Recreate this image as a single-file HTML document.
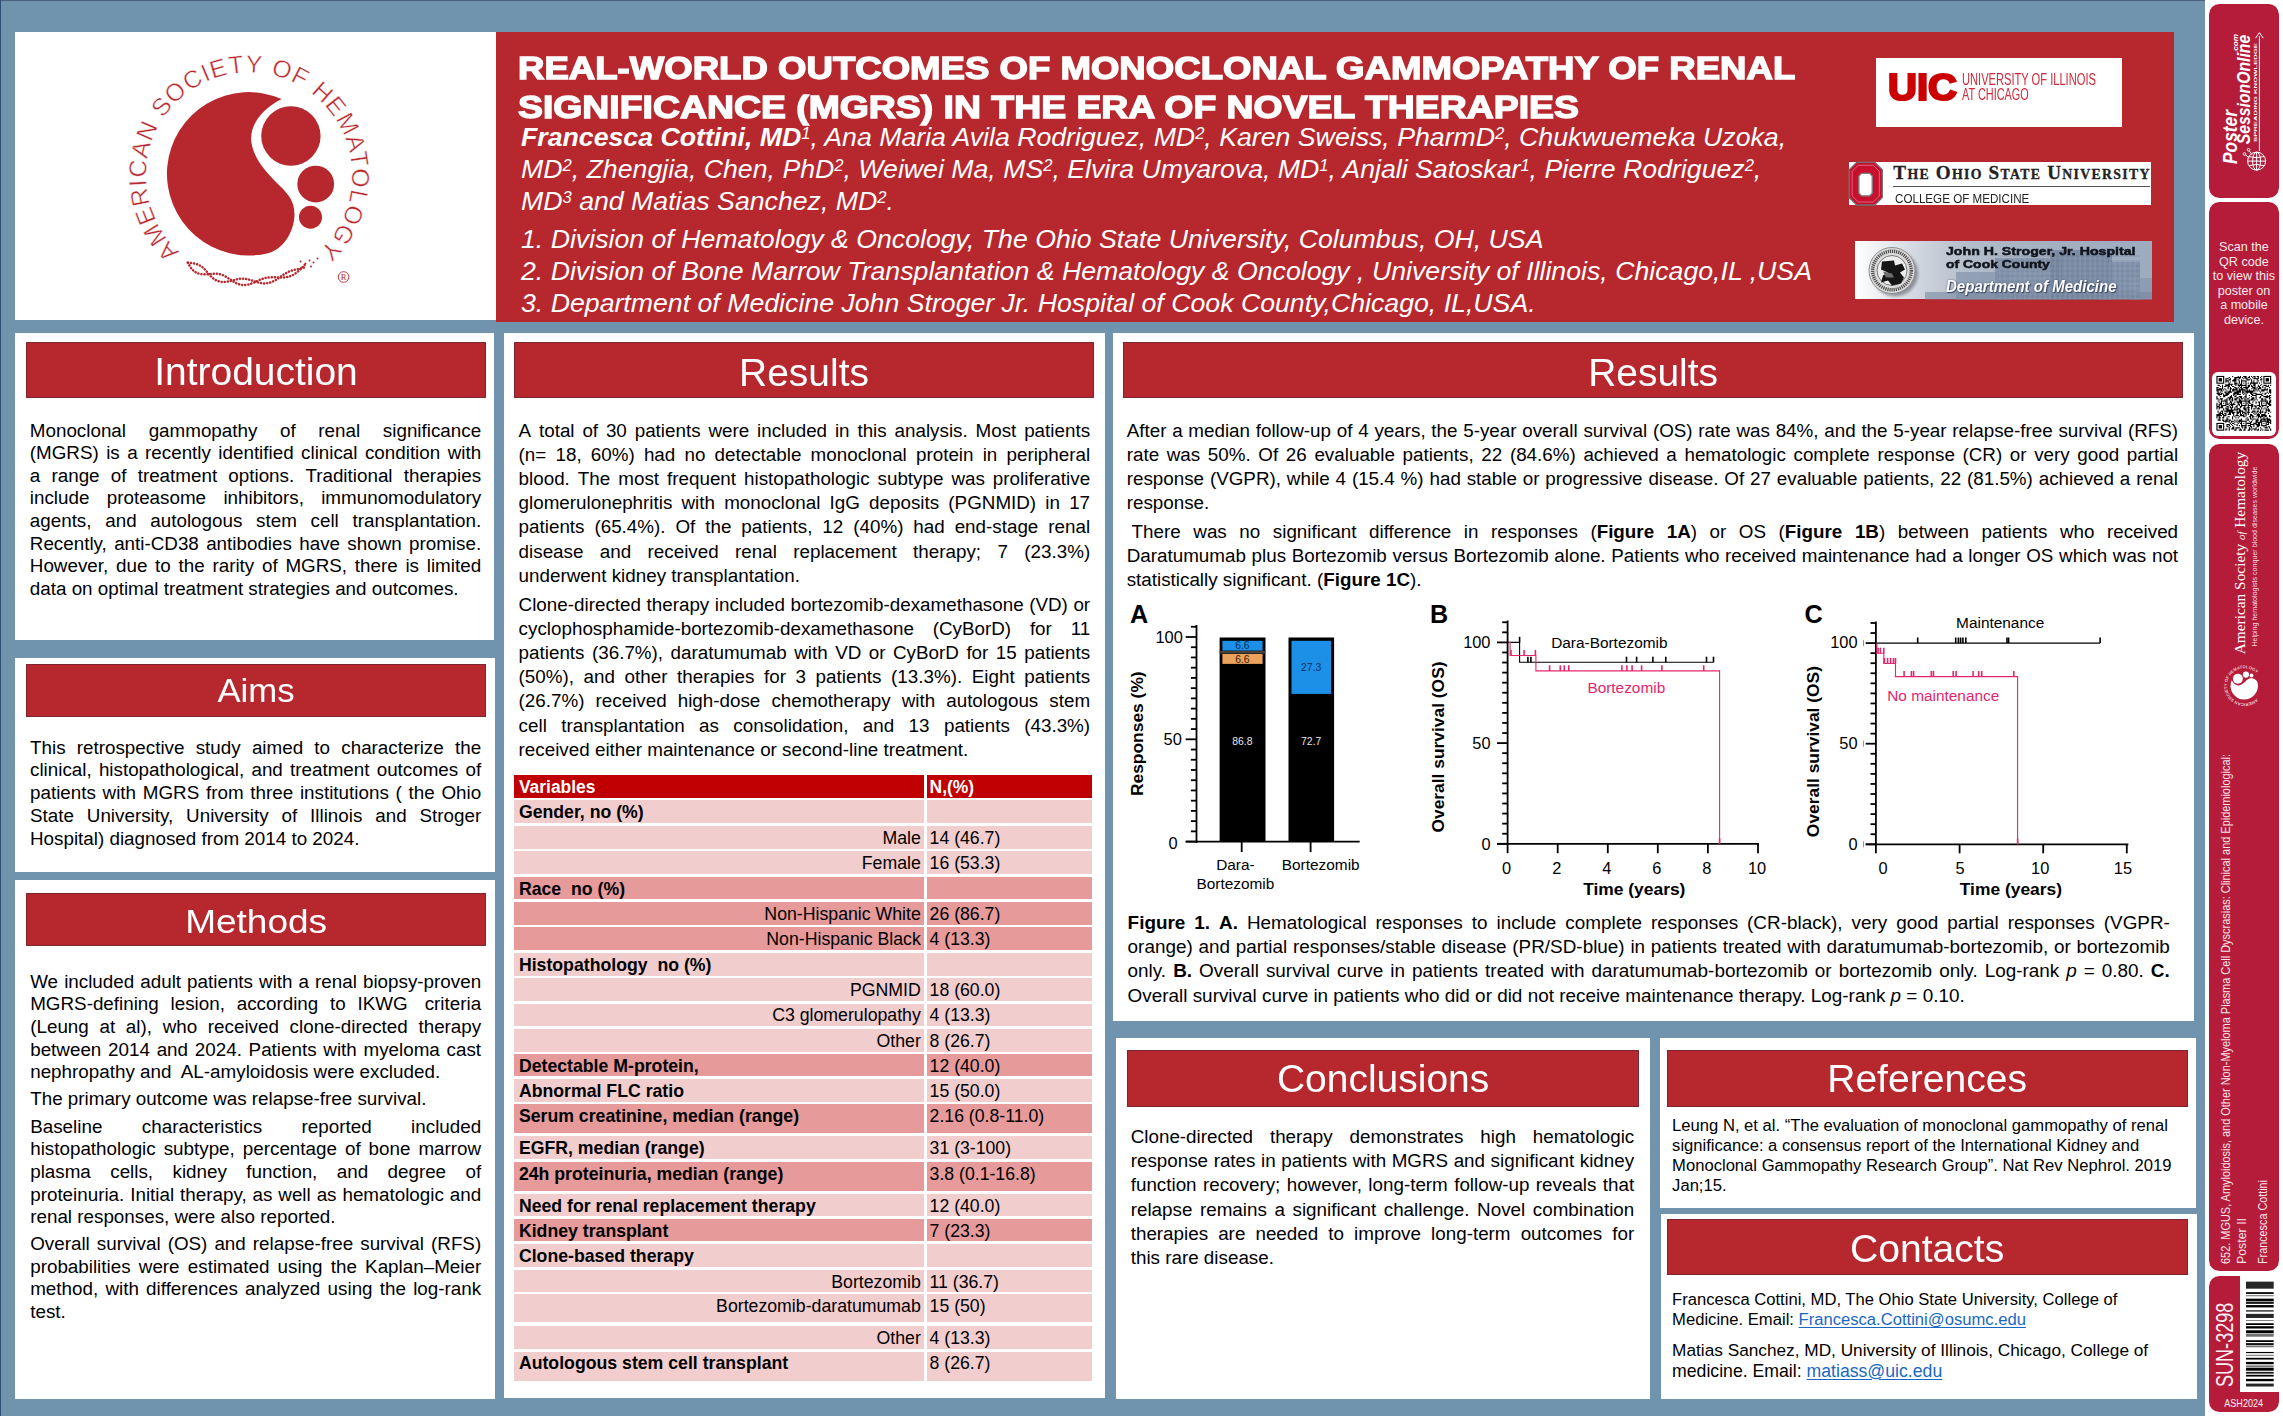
<!DOCTYPE html>
<html><head><meta charset="utf-8"><title>MGRS poster</title>
<style>
html,body{margin:0;padding:0;}
body{width:2283px;height:1416px;overflow:hidden;background:#7094ad;font-family:"Liberation Sans",sans-serif;color:#000;position:relative;}
.b{position:absolute;}
.h{background:#b7282e;color:#fff;box-shadow:inset 0 0 0 1px rgba(85,35,55,.6);overflow:hidden;}
.l{position:absolute;white-space:nowrap;z-index:2;}
.j{display:flex;justify-content:space-between;}
.l sup{font-size:62%;vertical-align:baseline;position:relative;top:-0.42em;line-height:0;}
svg.ov{position:absolute;left:0;top:0;z-index:1;}
</style></head>
<body>
<div class="b" style="left:0.00px;top:0.00px;width:2204.80px;height:1.20px;background:#47617f;"></div>
<div class="b" style="left:0.00px;top:0.00px;width:1.40px;height:1416.00px;background:#2f4f73;"></div>
<div class="b" style="left:15.00px;top:32.00px;width:481.00px;height:288.30px;background:#fff;"></div>
<div class="b" style="left:495.80px;top:32.00px;width:1678.20px;height:289.90px;background:#b7282e;"></div>
<div class="b" style="left:14.50px;top:332.60px;width:479.90px;height:307.40px;background:#fff;"></div>
<div class="b" style="left:15.00px;top:658.00px;width:480.30px;height:213.70px;background:#fff;"></div>
<div class="b" style="left:15.00px;top:880.00px;width:480.30px;height:518.50px;background:#fff;"></div>
<div class="b" style="left:504.00px;top:332.60px;width:601.10px;height:1065.40px;background:#fff;"></div>
<div class="b" style="left:1113.30px;top:332.60px;width:1080.70px;height:688.40px;background:#fff;"></div>
<div class="b" style="left:1115.60px;top:1038.20px;width:534.90px;height:360.80px;background:#fff;"></div>
<div class="b" style="left:1659.50px;top:1038.20px;width:536.50px;height:169.80px;background:#fff;"></div>
<div class="b" style="left:1660.90px;top:1213.80px;width:535.90px;height:185.20px;background:#fff;"></div>
<div class="b h" style="left:26.00px;top:342.20px;width:460.00px;height:56.30px;"><div style="position:absolute;left:0;right:0;top:2.31px;font-size:38.2px;line-height:56.30px;text-align:center;transform:scaleX(1.02);">Introduction</div></div>
<div class="b h" style="left:26.00px;top:664.00px;width:460.00px;height:52.70px;"><div style="position:absolute;left:0;right:0;top:1.44px;font-size:33.5px;line-height:52.70px;text-align:center;transform:scaleX(1.035);">Aims</div></div>
<div class="b h" style="left:26.00px;top:893.40px;width:460.30px;height:52.20px;"><div style="position:absolute;left:0;right:0;top:2.19px;font-size:33.5px;line-height:52.20px;text-align:center;transform:scaleX(1.105);">Methods</div></div>
<div class="b h" style="left:514.00px;top:342.20px;width:580.00px;height:56.30px;"><div style="position:absolute;left:0;right:0;top:2.61px;font-size:38.2px;line-height:56.30px;text-align:center;transform:scaleX(1.02);">Results</div></div>
<div class="b h" style="left:1122.50px;top:342.20px;width:1060.20px;height:56.30px;"><div style="position:absolute;left:0;right:0;top:2.61px;font-size:38.2px;line-height:56.30px;text-align:center;transform:scaleX(1.02);">Results</div></div>
<div class="b h" style="left:1126.50px;top:1050.20px;width:512.20px;height:56.60px;"><div style="position:absolute;left:0;right:0;top:1.06px;font-size:38.5px;line-height:56.60px;text-align:center;transform:scaleX(1.012);">Conclusions</div></div>
<div class="b h" style="left:1667.40px;top:1050.20px;width:520.20px;height:56.60px;"><div style="position:absolute;left:0;right:0;top:1.06px;font-size:38.5px;line-height:56.60px;text-align:center;transform:scaleX(1.015);">References</div></div>
<div class="b h" style="left:1667.40px;top:1219.40px;width:520.20px;height:56.00px;"><div style="position:absolute;left:0;right:0;top:1.86px;font-size:38.5px;line-height:56.00px;text-align:center;transform:scaleX(1.015);">Contacts</div></div>
<div class="l j" style="left:29.80px;top:418.54px;font-size:18.82px;line-height:24.47px;height:24.47px;width:451.40px"><span>Monoclonal</span><span>gammopathy</span><span>of</span><span>renal</span><span>significance</span></div>
<div class="l j" style="left:29.80px;top:441.14px;font-size:18.82px;line-height:24.47px;height:24.47px;width:451.40px"><span>(MGRS)</span><span>is</span><span>a</span><span>recently</span><span>identified</span><span>clinical</span><span>condition</span><span>with</span></div>
<div class="l j" style="left:29.80px;top:463.74px;font-size:18.82px;line-height:24.47px;height:24.47px;width:451.40px"><span>a</span><span>range</span><span>of</span><span>treatment</span><span>options.</span><span>Traditional</span><span>therapies</span></div>
<div class="l j" style="left:29.80px;top:486.34px;font-size:18.82px;line-height:24.47px;height:24.47px;width:451.40px"><span>include</span><span>proteasome</span><span>inhibitors,</span><span>immunomodulatory</span></div>
<div class="l j" style="left:29.80px;top:508.94px;font-size:18.82px;line-height:24.47px;height:24.47px;width:451.40px"><span>agents,</span><span>and</span><span>autologous</span><span>stem</span><span>cell</span><span>transplantation.</span></div>
<div class="l j" style="left:29.80px;top:531.54px;font-size:18.82px;line-height:24.47px;height:24.47px;width:451.40px"><span>Recently,</span><span>anti-CD38</span><span>antibodies</span><span>have</span><span>shown</span><span>promise.</span></div>
<div class="l j" style="left:29.80px;top:554.14px;font-size:18.82px;line-height:24.47px;height:24.47px;width:451.40px"><span>However,</span><span>due</span><span>to</span><span>the</span><span>rarity</span><span>of</span><span>MGRS,</span><span>there</span><span>is</span><span>limited</span></div>
<div class="l" style="left:29.80px;top:576.74px;font-size:18.82px;line-height:24.47px;height:24.47px;width:451.40px;">data on optimal treatment strategies and outcomes.</div>
<div class="l j" style="left:30.00px;top:735.64px;font-size:18.82px;line-height:24.47px;height:24.47px;width:451.20px"><span>This</span><span>retrospective</span><span>study</span><span>aimed</span><span>to</span><span>characterize</span><span>the</span></div>
<div class="l j" style="left:30.00px;top:758.39px;font-size:18.82px;line-height:24.47px;height:24.47px;width:451.20px"><span>clinical,</span><span>histopathological,</span><span>and</span><span>treatment</span><span>outcomes</span><span>of</span></div>
<div class="l j" style="left:30.00px;top:781.14px;font-size:18.82px;line-height:24.47px;height:24.47px;width:451.20px"><span>patients</span><span>with</span><span>MGRS</span><span>from</span><span>three</span><span>institutions</span><span>(</span><span>the</span><span>Ohio</span></div>
<div class="l j" style="left:30.00px;top:803.89px;font-size:18.82px;line-height:24.47px;height:24.47px;width:451.20px"><span>State</span><span>University,</span><span>University</span><span>of</span><span>Illinois</span><span>and</span><span>Stroger</span></div>
<div class="l" style="left:30.00px;top:826.64px;font-size:18.82px;line-height:24.47px;height:24.47px;width:451.20px;">Hospital) diagnosed from 2014 to 2024.</div>
<div class="l j" style="left:30.20px;top:969.54px;font-size:18.82px;line-height:24.47px;height:24.47px;width:451.00px"><span>We</span><span>included</span><span>adult</span><span>patients</span><span>with</span><span>a</span><span>renal</span><span>biopsy-proven</span></div>
<div class="l j" style="left:30.20px;top:992.24px;font-size:18.82px;line-height:24.47px;height:24.47px;width:451.00px"><span>MGRS-defining</span><span>lesion,</span><span>according</span><span>to</span><span>IKWG&nbsp;</span><span>criteria</span></div>
<div class="l j" style="left:30.20px;top:1014.94px;font-size:18.82px;line-height:24.47px;height:24.47px;width:451.00px"><span>(Leung</span><span>at</span><span>al),</span><span>who</span><span>received</span><span>clone-directed</span><span>therapy</span></div>
<div class="l j" style="left:30.20px;top:1037.64px;font-size:18.82px;line-height:24.47px;height:24.47px;width:451.00px"><span>between</span><span>2014</span><span>and</span><span>2024.</span><span>Patients</span><span>with</span><span>myeloma</span><span>cast</span></div>
<div class="l" style="left:30.20px;top:1060.34px;font-size:18.82px;line-height:24.47px;height:24.47px;width:451.00px;">nephropathy and&nbsp; AL-amyloidosis were excluded.</div>
<div class="l" style="left:30.20px;top:1087.44px;font-size:18.82px;line-height:24.47px;height:24.47px;width:451.00px;">The primary outcome was relapse-free survival.</div>
<div class="l j" style="left:30.20px;top:1114.54px;font-size:18.82px;line-height:24.47px;height:24.47px;width:451.00px"><span>Baseline</span><span>characteristics</span><span>reported</span><span>included</span></div>
<div class="l j" style="left:30.20px;top:1137.24px;font-size:18.82px;line-height:24.47px;height:24.47px;width:451.00px"><span>histopathologic</span><span>subtype,</span><span>percentage</span><span>of</span><span>bone</span><span>marrow</span></div>
<div class="l j" style="left:30.20px;top:1159.94px;font-size:18.82px;line-height:24.47px;height:24.47px;width:451.00px"><span>plasma</span><span>cells,</span><span>kidney</span><span>function,</span><span>and</span><span>degree</span><span>of</span></div>
<div class="l j" style="left:30.20px;top:1182.64px;font-size:18.82px;line-height:24.47px;height:24.47px;width:451.00px"><span>proteinuria.</span><span>Initial</span><span>therapy,</span><span>as</span><span>well</span><span>as</span><span>hematologic</span><span>and</span></div>
<div class="l" style="left:30.20px;top:1205.34px;font-size:18.82px;line-height:24.47px;height:24.47px;width:451.00px;">renal responses, were also reported.</div>
<div class="l j" style="left:30.20px;top:1231.94px;font-size:18.82px;line-height:24.47px;height:24.47px;width:451.00px"><span>Overall</span><span>survival</span><span>(OS)</span><span>and</span><span>relapse-free</span><span>survival</span><span>(RFS)</span></div>
<div class="l j" style="left:30.20px;top:1254.69px;font-size:18.82px;line-height:24.47px;height:24.47px;width:451.00px"><span>probabilities</span><span>were</span><span>estimated</span><span>using</span><span>the</span><span>Kaplan–Meier</span></div>
<div class="l j" style="left:30.20px;top:1277.44px;font-size:18.82px;line-height:24.47px;height:24.47px;width:451.00px"><span>method,</span><span>with</span><span>differences</span><span>analyzed</span><span>using</span><span>the</span><span>log-rank</span></div>
<div class="l" style="left:30.20px;top:1300.19px;font-size:18.82px;line-height:24.47px;height:24.47px;width:451.00px;">test.</div>
<div class="l j" style="left:518.60px;top:418.54px;font-size:18.82px;line-height:24.47px;height:24.47px;width:571.60px"><span>A</span><span>total</span><span>of</span><span>30</span><span>patients</span><span>were</span><span>included</span><span>in</span><span>this</span><span>analysis.</span><span>Most</span><span>patients</span></div>
<div class="l j" style="left:518.60px;top:442.74px;font-size:18.82px;line-height:24.47px;height:24.47px;width:571.60px"><span>(n=</span><span>18,</span><span>60%)</span><span>had</span><span>no</span><span>detectable</span><span>monoclonal</span><span>protein</span><span>in</span><span>peripheral</span></div>
<div class="l j" style="left:518.60px;top:466.94px;font-size:18.82px;line-height:24.47px;height:24.47px;width:571.60px"><span>blood.</span><span>The</span><span>most</span><span>frequent</span><span>histopathologic</span><span>subtype</span><span>was</span><span>proliferative</span></div>
<div class="l j" style="left:518.60px;top:491.14px;font-size:18.82px;line-height:24.47px;height:24.47px;width:571.60px"><span>glomerulonephritis</span><span>with</span><span>monoclonal</span><span>IgG</span><span>deposits</span><span>(PGNMID)</span><span>in</span><span>17</span></div>
<div class="l j" style="left:518.60px;top:515.34px;font-size:18.82px;line-height:24.47px;height:24.47px;width:571.60px"><span>patients</span><span>(65.4%).</span><span>Of</span><span>the</span><span>patients,</span><span>12</span><span>(40%)</span><span>had</span><span>end-stage</span><span>renal</span></div>
<div class="l j" style="left:518.60px;top:539.54px;font-size:18.82px;line-height:24.47px;height:24.47px;width:571.60px"><span>disease</span><span>and</span><span>received</span><span>renal</span><span>replacement</span><span>therapy;</span><span>7</span><span>(23.3%)</span></div>
<div class="l" style="left:518.60px;top:563.74px;font-size:18.82px;line-height:24.47px;height:24.47px;width:571.60px;">underwent kidney transplantation.</div>
<div class="l j" style="left:518.60px;top:592.54px;font-size:18.82px;line-height:24.47px;height:24.47px;width:571.60px"><span>Clone-directed</span><span>therapy</span><span>included</span><span>bortezomib-dexamethasone</span><span>(VD)</span><span>or</span></div>
<div class="l j" style="left:518.60px;top:616.74px;font-size:18.82px;line-height:24.47px;height:24.47px;width:571.60px"><span>cyclophosphamide-bortezomib-dexamethasone</span><span>(CyBorD)</span><span>for</span><span>11</span></div>
<div class="l j" style="left:518.60px;top:640.94px;font-size:18.82px;line-height:24.47px;height:24.47px;width:571.60px"><span>patients</span><span>(36.7%),</span><span>daratumumab</span><span>with</span><span>VD</span><span>or</span><span>CyBorD</span><span>for</span><span>15</span><span>patients</span></div>
<div class="l j" style="left:518.60px;top:665.14px;font-size:18.82px;line-height:24.47px;height:24.47px;width:571.60px"><span>(50%),</span><span>and</span><span>other</span><span>therapies</span><span>for</span><span>3</span><span>patients</span><span>(13.3%).</span><span>Eight</span><span>patients</span></div>
<div class="l j" style="left:518.60px;top:689.34px;font-size:18.82px;line-height:24.47px;height:24.47px;width:571.60px"><span>(26.7%)</span><span>received</span><span>high-dose</span><span>chemotherapy</span><span>with</span><span>autologous</span><span>stem</span></div>
<div class="l j" style="left:518.60px;top:713.54px;font-size:18.82px;line-height:24.47px;height:24.47px;width:571.60px"><span>cell</span><span>transplantation</span><span>as</span><span>consolidation,</span><span>and</span><span>13</span><span>patients</span><span>(43.3%)</span></div>
<div class="l" style="left:518.60px;top:737.74px;font-size:18.82px;line-height:24.47px;height:24.47px;width:571.60px;">received either maintenance or second-line treatment.</div>
<div class="l j" style="left:1126.70px;top:418.64px;font-size:18.82px;line-height:24.47px;height:24.47px;width:1051.40px"><span>After</span><span>a</span><span>median</span><span>follow-up</span><span>of</span><span>4</span><span>years,</span><span>the</span><span>5-year</span><span>overall</span><span>survival</span><span>(OS)</span><span>rate</span><span>was</span><span>84%,</span><span>and</span><span>the</span><span>5-year</span><span>relapse-free</span><span>survival</span><span>(RFS)</span></div>
<div class="l j" style="left:1126.70px;top:442.74px;font-size:18.82px;line-height:24.47px;height:24.47px;width:1051.40px"><span>rate</span><span>was</span><span>50%.</span><span>Of</span><span>26</span><span>evaluable</span><span>patients,</span><span>22</span><span>(84.6%)</span><span>achieved</span><span>a</span><span>hematologic</span><span>complete</span><span>response</span><span>(CR)</span><span>or</span><span>very</span><span>good</span><span>partial</span></div>
<div class="l j" style="left:1126.70px;top:466.84px;font-size:18.82px;line-height:24.47px;height:24.47px;width:1051.40px"><span>response</span><span>(VGPR),</span><span>while</span><span>4</span><span>(15.4</span><span>%)</span><span>had</span><span>stable</span><span>or</span><span>progressive</span><span>disease.</span><span>Of</span><span>27</span><span>evaluable</span><span>patients,</span><span>22</span><span>(81.5%)</span><span>achieved</span><span>a</span><span>renal</span></div>
<div class="l" style="left:1126.70px;top:490.94px;font-size:18.82px;line-height:24.47px;height:24.47px;width:1051.40px;">response.</div>
<div class="l j" style="left:1131.60px;top:519.84px;font-size:18.82px;line-height:24.47px;height:24.47px;width:1046.50px"><span>There</span><span>was</span><span>no</span><span>significant</span><span>difference</span><span>in</span><span>responses</span><span>(<b>Figure</b></span><span><b>1A</b>)</span><span>or</span><span>OS</span><span>(<b>Figure</b></span><span><b>1B</b>)</span><span>between</span><span>patients</span><span>who</span><span>received</span></div>
<div class="l j" style="left:1126.70px;top:543.94px;font-size:18.82px;line-height:24.47px;height:24.47px;width:1051.40px"><span>Daratumumab</span><span>plus</span><span>Bortezomib</span><span>versus</span><span>Bortezomib</span><span>alone.</span><span>Patients</span><span>who</span><span>received</span><span>maintenance</span><span>had</span><span>a</span><span>longer</span><span>OS</span><span>which</span><span>was</span><span>not</span></div>
<div class="l" style="left:1126.70px;top:568.04px;font-size:18.82px;line-height:24.47px;height:24.47px;width:1051.40px;">statistically significant. (<b>Figure 1C</b>).</div>
<div class="l j" style="left:1127.60px;top:911.27px;font-size:18.9px;line-height:24.57px;height:24.57px;width:1042.30px"><span><b>Figure</b></span><span><b>1.</b></span><span><b>A.</b></span><span>Hematological</span><span>responses</span><span>to</span><span>include</span><span>complete</span><span>responses</span><span>(CR-black),</span><span>very</span><span>good</span><span>partial</span><span>responses</span><span>(VGPR-</span></div>
<div class="l j" style="left:1127.60px;top:935.37px;font-size:18.9px;line-height:24.57px;height:24.57px;width:1042.30px"><span>orange)</span><span>and</span><span>partial</span><span>responses/stable</span><span>disease</span><span>(PR/SD-blue)</span><span>in</span><span>patients</span><span>treated</span><span>with</span><span>daratumumab-bortezomib,</span><span>or</span><span>bortezomib</span></div>
<div class="l j" style="left:1127.60px;top:959.47px;font-size:18.9px;line-height:24.57px;height:24.57px;width:1042.30px"><span>only.</span><span><b>B.</b></span><span>Overall</span><span>survival</span><span>curve</span><span>in</span><span>patients</span><span>treated</span><span>with</span><span>daratumumab-bortezomib</span><span>or</span><span>bortezomib</span><span>only.</span><span>Log-rank</span><span><i>p</i></span><span>=</span><span>0.80.</span><span><b>C.</b></span></div>
<div class="l" style="left:1127.60px;top:983.57px;font-size:18.9px;line-height:24.57px;height:24.57px;width:1042.30px;">Overall survival curve in patients who did or did not receive maintenance therapy. Log-rank <i>p</i> = 0.10.</div>
<div class="l j" style="left:1130.70px;top:1124.94px;font-size:18.82px;line-height:24.47px;height:24.47px;width:503.60px"><span>Clone-directed</span><span>therapy</span><span>demonstrates</span><span>high</span><span>hematologic</span></div>
<div class="l j" style="left:1130.70px;top:1149.16px;font-size:18.82px;line-height:24.47px;height:24.47px;width:503.60px"><span>response</span><span>rates</span><span>in</span><span>patients</span><span>with</span><span>MGRS</span><span>and</span><span>significant</span><span>kidney</span></div>
<div class="l j" style="left:1130.70px;top:1173.38px;font-size:18.82px;line-height:24.47px;height:24.47px;width:503.60px"><span>function</span><span>recovery;</span><span>however,</span><span>long-term</span><span>follow-up</span><span>reveals</span><span>that</span></div>
<div class="l j" style="left:1130.70px;top:1197.60px;font-size:18.82px;line-height:24.47px;height:24.47px;width:503.60px"><span>relapse</span><span>remains</span><span>a</span><span>significant</span><span>challenge.</span><span>Novel</span><span>combination</span></div>
<div class="l j" style="left:1130.70px;top:1221.82px;font-size:18.82px;line-height:24.47px;height:24.47px;width:503.60px"><span>therapies</span><span>are</span><span>needed</span><span>to</span><span>improve</span><span>long-term</span><span>outcomes</span><span>for</span></div>
<div class="l" style="left:1130.70px;top:1246.04px;font-size:18.82px;line-height:24.47px;height:24.47px;width:503.60px;">this rare disease.</div>
<div class="l" style="left:1672.10px;top:1114.54px;font-size:16.62px;line-height:21.61px;height:21.61px;">Leung N, et al. “The evaluation of monoclonal gammopathy of renal</div>
<div class="l" style="left:1672.10px;top:1134.61px;font-size:16.62px;line-height:21.61px;height:21.61px;">significance: a consensus report of the International Kidney and</div>
<div class="l" style="left:1672.10px;top:1154.68px;font-size:16.62px;line-height:21.61px;height:21.61px;">Monoclonal Gammopathy Research Group”. Nat Rev Nephrol. 2019</div>
<div class="l" style="left:1672.10px;top:1174.75px;font-size:16.62px;line-height:21.61px;height:21.61px;">Jan;15.</div>
<div class="l" style="left:1672.10px;top:1288.73px;font-size:16.63px;line-height:21.62px;height:21.62px;">Francesca Cottini, MD, The Ohio State University, College of</div>
<div class="l" style="left:1672.10px;top:1308.93px;font-size:16.63px;line-height:21.62px;height:21.62px;">Medicine. Email: <span style="color:#1a68c2;text-decoration:underline;text-decoration-thickness:1px;text-underline-offset:2px">Francesca.Cottini@osumc.edu</span></div>
<div class="l" style="left:1672.10px;top:1339.02px;font-size:17.24px;line-height:22.41px;height:22.41px;">Matias Sanchez, MD, University of Illinois, Chicago, College of</div>
<div class="l" style="left:1672.10px;top:1359.60px;font-size:17.66px;line-height:22.96px;height:22.96px;">medicine. Email: <span style="color:#1a68c2;text-decoration:underline;text-decoration-thickness:1px;text-underline-offset:2px">matiass@uic.edu</span></div>
<div class="b" style="left:514.20px;top:775.30px;width:409.50px;height:22.80px;background:#c00000;"></div>
<div class="b" style="left:926.60px;top:775.30px;width:165.90px;height:22.80px;background:#c00000;"></div>
<div class="l" style="left:518.90px;top:776.42px;font-size:17.44px;line-height:22.67px;height:22.67px;font-weight:700;color:#fff;">Variables</div>
<div class="l" style="left:929.60px;top:776.42px;font-size:17.44px;line-height:22.67px;height:22.67px;font-weight:700;color:#fff;">N,(%)</div>
<div class="b" style="left:514.20px;top:800.30px;width:409.50px;height:23.10px;background:#f2cdcd;"></div>
<div class="b" style="left:926.60px;top:800.30px;width:165.90px;height:23.10px;background:#f2cdcd;"></div>
<div class="l" style="left:518.90px;top:801.17px;font-size:17.69px;line-height:23.0px;height:23.0px;font-weight:700;color:#000;">Gender, no (%)</div>
<div class="b" style="left:514.20px;top:826.10px;width:409.50px;height:22.60px;background:#f2cdcd;"></div>
<div class="b" style="left:926.60px;top:826.10px;width:165.90px;height:22.60px;background:#f2cdcd;"></div>
<div class="l" style="left:514.20px;top:826.94px;font-size:17.72px;line-height:23.04px;height:23.04px;text-align:right;width:406.60px;">Male</div>
<div class="l" style="left:929.60px;top:827.00px;font-size:17.66px;line-height:22.96px;height:22.96px;color:#000;">14 (46.7)</div>
<div class="b" style="left:514.20px;top:851.40px;width:409.50px;height:22.80px;background:#f2cdcd;"></div>
<div class="b" style="left:926.60px;top:851.40px;width:165.90px;height:22.80px;background:#f2cdcd;"></div>
<div class="l" style="left:514.20px;top:852.24px;font-size:17.72px;line-height:23.04px;height:23.04px;text-align:right;width:406.60px;">Female</div>
<div class="l" style="left:929.60px;top:852.30px;font-size:17.66px;line-height:22.96px;height:22.96px;color:#000;">16 (53.3)</div>
<div class="b" style="left:514.20px;top:876.90px;width:409.50px;height:22.50px;background:#e69a9a;"></div>
<div class="b" style="left:926.60px;top:876.90px;width:165.90px;height:22.50px;background:#e69a9a;"></div>
<div class="l" style="left:518.90px;top:877.77px;font-size:17.69px;line-height:23.0px;height:23.0px;font-weight:700;color:#000;">Race&nbsp; no (%)</div>
<div class="b" style="left:514.20px;top:902.20px;width:409.50px;height:23.00px;background:#e69a9a;"></div>
<div class="b" style="left:926.60px;top:902.20px;width:165.90px;height:23.00px;background:#e69a9a;"></div>
<div class="l" style="left:514.20px;top:903.04px;font-size:17.72px;line-height:23.04px;height:23.04px;text-align:right;width:406.60px;">Non-Hispanic White</div>
<div class="l" style="left:929.60px;top:903.10px;font-size:17.66px;line-height:22.96px;height:22.96px;color:#000;">26 (86.7)</div>
<div class="b" style="left:514.20px;top:927.40px;width:409.50px;height:23.10px;background:#e69a9a;"></div>
<div class="b" style="left:926.60px;top:927.40px;width:165.90px;height:23.10px;background:#e69a9a;"></div>
<div class="l" style="left:514.20px;top:928.24px;font-size:17.72px;line-height:23.04px;height:23.04px;text-align:right;width:406.60px;">Non-Hispanic Black</div>
<div class="l" style="left:929.60px;top:928.30px;font-size:17.66px;line-height:22.96px;height:22.96px;color:#000;">4 (13.3)</div>
<div class="b" style="left:514.20px;top:953.00px;width:409.50px;height:22.50px;background:#f2cdcd;"></div>
<div class="b" style="left:926.60px;top:953.00px;width:165.90px;height:22.50px;background:#f2cdcd;"></div>
<div class="l" style="left:518.90px;top:953.87px;font-size:17.69px;line-height:23.0px;height:23.0px;font-weight:700;color:#000;">Histopathology&nbsp; no (%)</div>
<div class="b" style="left:514.20px;top:978.20px;width:409.50px;height:22.50px;background:#f2cdcd;"></div>
<div class="b" style="left:926.60px;top:978.20px;width:165.90px;height:22.50px;background:#f2cdcd;"></div>
<div class="l" style="left:514.20px;top:979.04px;font-size:17.72px;line-height:23.04px;height:23.04px;text-align:right;width:406.60px;">PGNMID</div>
<div class="l" style="left:929.60px;top:979.10px;font-size:17.66px;line-height:22.96px;height:22.96px;color:#000;">18 (60.0)</div>
<div class="b" style="left:514.20px;top:1003.50px;width:409.50px;height:22.80px;background:#f2cdcd;"></div>
<div class="b" style="left:926.60px;top:1003.50px;width:165.90px;height:22.80px;background:#f2cdcd;"></div>
<div class="l" style="left:514.20px;top:1004.34px;font-size:17.72px;line-height:23.04px;height:23.04px;text-align:right;width:406.60px;">C3 glomerulopathy</div>
<div class="l" style="left:929.60px;top:1004.40px;font-size:17.66px;line-height:22.96px;height:22.96px;color:#000;">4 (13.3)</div>
<div class="b" style="left:514.20px;top:1029.00px;width:409.50px;height:22.50px;background:#f2cdcd;"></div>
<div class="b" style="left:926.60px;top:1029.00px;width:165.90px;height:22.50px;background:#f2cdcd;"></div>
<div class="l" style="left:514.20px;top:1029.84px;font-size:17.72px;line-height:23.04px;height:23.04px;text-align:right;width:406.60px;">Other</div>
<div class="l" style="left:929.60px;top:1029.90px;font-size:17.66px;line-height:22.96px;height:22.96px;color:#000;">8 (26.7)</div>
<div class="b" style="left:514.20px;top:1054.10px;width:409.50px;height:22.40px;background:#e69a9a;"></div>
<div class="b" style="left:926.60px;top:1054.10px;width:165.90px;height:22.40px;background:#e69a9a;"></div>
<div class="l" style="left:518.90px;top:1054.97px;font-size:17.69px;line-height:23.0px;height:23.0px;font-weight:700;color:#000;">Detectable M-protein,</div>
<div class="l" style="left:929.60px;top:1055.00px;font-size:17.66px;line-height:22.96px;height:22.96px;color:#000;">12 (40.0)</div>
<div class="b" style="left:514.20px;top:1079.30px;width:409.50px;height:22.30px;background:#f2cdcd;"></div>
<div class="b" style="left:926.60px;top:1079.30px;width:165.90px;height:22.30px;background:#f2cdcd;"></div>
<div class="l" style="left:518.90px;top:1080.17px;font-size:17.69px;line-height:23.0px;height:23.0px;font-weight:700;color:#000;">Abnormal FLC ratio</div>
<div class="l" style="left:929.60px;top:1080.20px;font-size:17.66px;line-height:22.96px;height:22.96px;color:#000;">15 (50.0)</div>
<div class="b" style="left:514.20px;top:1104.30px;width:409.50px;height:29.10px;background:#e69a9a;"></div>
<div class="b" style="left:926.60px;top:1104.30px;width:165.90px;height:29.10px;background:#e69a9a;"></div>
<div class="l" style="left:518.90px;top:1105.17px;font-size:17.69px;line-height:23.0px;height:23.0px;font-weight:700;color:#000;">Serum creatinine, median (range)</div>
<div class="l" style="left:929.60px;top:1105.20px;font-size:17.66px;line-height:22.96px;height:22.96px;color:#000;">2.16 (0.8-11.0)</div>
<div class="b" style="left:514.20px;top:1136.40px;width:409.50px;height:22.80px;background:#f2cdcd;"></div>
<div class="b" style="left:926.60px;top:1136.40px;width:165.90px;height:22.80px;background:#f2cdcd;"></div>
<div class="l" style="left:518.90px;top:1137.27px;font-size:17.69px;line-height:23.0px;height:23.0px;font-weight:700;color:#000;">EGFR, median (range)</div>
<div class="l" style="left:929.60px;top:1137.30px;font-size:17.66px;line-height:22.96px;height:22.96px;color:#000;">31 (3-100)</div>
<div class="b" style="left:514.20px;top:1161.90px;width:409.50px;height:28.80px;background:#e69a9a;"></div>
<div class="b" style="left:926.60px;top:1161.90px;width:165.90px;height:28.80px;background:#e69a9a;"></div>
<div class="l" style="left:518.90px;top:1162.77px;font-size:17.69px;line-height:23.0px;height:23.0px;font-weight:700;color:#000;">24h proteinuria, median (range)</div>
<div class="l" style="left:929.60px;top:1162.80px;font-size:17.66px;line-height:22.96px;height:22.96px;color:#000;">3.8 (0.1-16.8)</div>
<div class="b" style="left:514.20px;top:1193.90px;width:409.50px;height:21.80px;background:#f2cdcd;"></div>
<div class="b" style="left:926.60px;top:1193.90px;width:165.90px;height:21.80px;background:#f2cdcd;"></div>
<div class="l" style="left:518.90px;top:1194.77px;font-size:17.69px;line-height:23.0px;height:23.0px;font-weight:700;color:#000;">Need for renal replacement therapy</div>
<div class="l" style="left:929.60px;top:1194.80px;font-size:17.66px;line-height:22.96px;height:22.96px;color:#000;">12 (40.0)</div>
<div class="b" style="left:514.20px;top:1218.90px;width:409.50px;height:22.60px;background:#e69a9a;"></div>
<div class="b" style="left:926.60px;top:1218.90px;width:165.90px;height:22.60px;background:#e69a9a;"></div>
<div class="l" style="left:518.90px;top:1219.77px;font-size:17.69px;line-height:23.0px;height:23.0px;font-weight:700;color:#000;">Kidney transplant</div>
<div class="l" style="left:929.60px;top:1219.80px;font-size:17.66px;line-height:22.96px;height:22.96px;color:#000;">7 (23.3)</div>
<div class="b" style="left:514.20px;top:1244.20px;width:409.50px;height:22.50px;background:#f2cdcd;"></div>
<div class="b" style="left:926.60px;top:1244.20px;width:165.90px;height:22.50px;background:#f2cdcd;"></div>
<div class="l" style="left:518.90px;top:1245.07px;font-size:17.69px;line-height:23.0px;height:23.0px;font-weight:700;color:#000;">Clone-based therapy</div>
<div class="b" style="left:514.20px;top:1270.00px;width:409.50px;height:21.70px;background:#f2cdcd;"></div>
<div class="b" style="left:926.60px;top:1270.00px;width:165.90px;height:21.70px;background:#f2cdcd;"></div>
<div class="l" style="left:514.20px;top:1270.84px;font-size:17.72px;line-height:23.04px;height:23.04px;text-align:right;width:406.60px;">Bortezomib</div>
<div class="l" style="left:929.60px;top:1270.90px;font-size:17.66px;line-height:22.96px;height:22.96px;color:#000;">11 (36.7)</div>
<div class="b" style="left:514.20px;top:1294.40px;width:409.50px;height:28.00px;background:#f2cdcd;"></div>
<div class="b" style="left:926.60px;top:1294.40px;width:165.90px;height:28.00px;background:#f2cdcd;"></div>
<div class="l" style="left:514.20px;top:1295.24px;font-size:17.72px;line-height:23.04px;height:23.04px;text-align:right;width:406.60px;">Bortezomib-daratumumab</div>
<div class="l" style="left:929.60px;top:1295.30px;font-size:17.66px;line-height:22.96px;height:22.96px;color:#000;">15 (50)</div>
<div class="b" style="left:514.20px;top:1325.70px;width:409.50px;height:23.10px;background:#f2cdcd;"></div>
<div class="b" style="left:926.60px;top:1325.70px;width:165.90px;height:23.10px;background:#f2cdcd;"></div>
<div class="l" style="left:514.20px;top:1326.54px;font-size:17.72px;line-height:23.04px;height:23.04px;text-align:right;width:406.60px;">Other</div>
<div class="l" style="left:929.60px;top:1326.60px;font-size:17.66px;line-height:22.96px;height:22.96px;color:#000;">4 (13.3)</div>
<div class="b" style="left:514.20px;top:1351.50px;width:409.50px;height:29.30px;background:#f2cdcd;"></div>
<div class="b" style="left:926.60px;top:1351.50px;width:165.90px;height:29.30px;background:#f2cdcd;"></div>
<div class="l" style="left:518.90px;top:1352.37px;font-size:17.69px;line-height:23.0px;height:23.0px;font-weight:700;color:#000;">Autologous stem cell transplant</div>
<div class="l" style="left:929.60px;top:1352.40px;font-size:17.66px;line-height:22.96px;height:22.96px;color:#000;">8 (26.7)</div>
<div class="l" style="left:518.40px;top:49.01px;font-size:31.4px;line-height:40.82px;height:40.82px;font-weight:700;color:#fff;transform-origin:0 50%;transform:scaleX(1.1651);-webkit-text-stroke:1.35px #fff;letter-spacing:0px;">REAL-WORLD OUTCOMES OF MONOCLONAL GAMMOPATHY OF RENAL</div>
<div class="l" style="left:518.40px;top:88.41px;font-size:31.4px;line-height:40.82px;height:40.82px;font-weight:700;color:#fff;transform-origin:0 50%;transform:scaleX(1.1904);-webkit-text-stroke:1.35px #fff;letter-spacing:0px;">SIGNIFICANCE (MGRS) IN THE ERA OF NOVEL THERAPIES</div>
<div class="l" style="left:521.00px;top:119.80px;font-size:26.69px;line-height:34.7px;height:34.7px;font-style:italic;color:#fff;"><b>Francesca Cottini, MD</b><sup>1</sup>, Ana Maria Avila Rodriguez, MD<sup>2</sup>, Karen Sweiss, PharmD<sup>2</sup>, Chukwuemeka Uzoka,</div>
<div class="l" style="left:521.00px;top:151.70px;font-size:26.69px;line-height:34.7px;height:34.7px;font-style:italic;color:#fff;">MD<sup>2</sup>, Zhengjia, Chen, PhD<sup>2</sup>, Weiwei Ma, MS<sup>2</sup>, Elvira Umyarova, MD<sup>1</sup>, Anjali Satoskar<sup>1</sup>, Pierre Rodriguez<sup>2</sup>,</div>
<div class="l" style="left:521.00px;top:183.60px;font-size:26.69px;line-height:34.7px;height:34.7px;font-style:italic;color:#fff;">MD<sup>3</sup> and Matias Sanchez, MD<sup>2</sup>.</div>
<div class="l" style="left:521.00px;top:222.00px;font-size:26.69px;line-height:34.7px;height:34.7px;font-style:italic;color:#fff;">1. Division of Hematology &amp; Oncology, The Ohio State University, Columbus, OH, USA</div>
<div class="l" style="left:521.00px;top:254.00px;font-size:26.69px;line-height:34.7px;height:34.7px;font-style:italic;color:#fff;">2. Division of Bone Marrow Transplantation &amp; Hematology &amp; Oncology , University of Illinois, Chicago,IL ,USA</div>
<div class="l" style="left:521.00px;top:286.20px;font-size:26.69px;line-height:34.7px;height:34.7px;font-style:italic;color:#fff;">3. Department of Medicine John Stroger Jr. Hospital of Cook County,Chicago, IL,USA.</div>
<div class="b" style="left:1876.10px;top:57.50px;width:245.80px;height:69.50px;background:#fff;"></div>
<div class="l" style="left:1887.80px;top:63.63px;font-size:37px;line-height:48.1px;height:48.1px;font-weight:700;color:#cc0000;transform-origin:0 50%;transform:scaleX(1.083);-webkit-text-stroke:2.2px #cc0000;">UIC</div>
<div class="l" style="left:1961.50px;top:70.16px;font-size:16px;line-height:20.8px;height:20.8px;color:#cf2a3a;transform-origin:0 50%;transform:scaleX(0.695);">UNIVERSITY OF ILLINOIS</div>
<div class="l" style="left:1961.50px;top:84.96px;font-size:16px;line-height:20.8px;height:20.8px;color:#cf2a3a;transform-origin:0 50%;transform:scaleX(0.681);">AT CHICAGO</div>
<div class="b" style="left:1848.60px;top:161.80px;width:302.30px;height:43.60px;background:#fff;"></div>
<div class="l" style="left:1893.30px;top:161.44px;font-size:13.8px;line-height:24px;height:24px;font-family:'Liberation Serif',serif;font-weight:700;color:#222;letter-spacing:1.33px;word-spacing:1px;-webkit-text-stroke:0.3px #222;"><span style="font-size:19.1px">T</span>HE <span style="font-size:19.1px">O</span>HIO <span style="font-size:19.1px">S</span>TATE <span style="font-size:19.1px">U</span>NIVERSITY</div>
<div class="b" style="left:1893.30px;top:185.90px;width:257.20px;height:1.00px;background:#555;"></div>
<div class="l" style="left:1895.20px;top:190.64px;font-size:12.7px;line-height:16.51px;height:16.51px;color:#222;transform-origin:0 50%;transform:scaleX(0.916);">COLLEGE OF MEDICINE</div>
<div class="b" style="left:1855px;top:240.8px;width:297px;height:58.7px;background:linear-gradient(90deg,#ffffff 0%,#eceef2 9%,#cfd5de 22%,#b4bdcb 38%,#a6b1c2 60%,#9dabbf 100%)"></div>
<div class="l" style="left:1946.00px;top:244.04px;font-size:11.2px;line-height:14.56px;height:14.56px;font-weight:700;color:#10141c;transform-origin:0 50%;transform:scaleX(1.265);-webkit-text-stroke:0.5px #10141c;">John H. Stroger, Jr. Hospital</div>
<div class="l" style="left:1946.00px;top:256.74px;font-size:11.2px;line-height:14.56px;height:14.56px;font-weight:700;color:#10141c;transform-origin:0 50%;transform:scaleX(1.247);-webkit-text-stroke:0.5px #10141c;">of Cook County</div>
<div class="l" style="left:1946.00px;top:276.55px;font-size:15.6px;line-height:20.28px;height:20.28px;font-weight:700;font-style:italic;color:#fff;text-shadow:1px 1px 1px #39455c,0 0 2px #4a5670;transform-origin:0 50%;transform:scaleX(0.965);">Department of Medicine</div>
<div class="b" style="left:2204.80px;top:0.00px;width:78.20px;height:1416.00px;background:#fff;"></div>
<div class="b" style="left:2209.20px;top:4.00px;width:69.50px;height:193.90px;background:#b51c3a;border-radius:10.5px;"></div>
<div class="b" style="left:2209.20px;top:202.10px;width:69.50px;height:237.10px;background:#b51c3a;border-radius:10.5px;"></div>
<div class="b" style="left:2209.20px;top:443.90px;width:69.50px;height:827.20px;background:#b51c3a;border-radius:10.5px;"></div>
<div class="b" style="left:2209.20px;top:1275.80px;width:69.50px;height:136.50px;background:#b51c3a;border-radius:10.5px;"></div>
<div class="b" style="left:2240.10px;top:1275.00px;width:42.90px;height:117.40px;background:#fff;"></div>
<div class="b" style="left:2211.80px;top:371.70px;width:64.00px;height:64.40px;background:#fff;border-radius:6px;"></div>
<div class="l" style="left:2209.20px;top:239.34px;font-size:12.6px;line-height:16.38px;height:16.38px;text-align:center;color:#fbe9ee;width:69.50px;">Scan the</div>
<div class="l" style="left:2209.20px;top:253.79px;font-size:12.6px;line-height:16.38px;height:16.38px;text-align:center;color:#fbe9ee;width:69.50px;">QR code</div>
<div class="l" style="left:2209.20px;top:268.24px;font-size:12.6px;line-height:16.38px;height:16.38px;text-align:center;color:#fbe9ee;width:69.50px;">to view this</div>
<div class="l" style="left:2209.20px;top:282.69px;font-size:12.6px;line-height:16.38px;height:16.38px;text-align:center;color:#fbe9ee;width:69.50px;">poster on</div>
<div class="l" style="left:2209.20px;top:297.14px;font-size:12.6px;line-height:16.38px;height:16.38px;text-align:center;color:#fbe9ee;width:69.50px;">a mobile</div>
<div class="l" style="left:2209.20px;top:311.59px;font-size:12.6px;line-height:16.38px;height:16.38px;text-align:center;color:#fbe9ee;width:69.50px;">device.</div>
<svg class="ov" width="2283" height="1416" viewBox="0 0 2283 1416">
<g fill="#b7282e"><path d="M281.7,99.1 A81.7,81.7 0 1 0 268,253.2 C281,250 292,236 294.2,219 C296,203 289,195 280.5,186.5 C268,174 254,160 251.3,142 C249.5,125 262,109 281.7,99.1 Z"/><circle cx="290.9" cy="136" r="29.7"/><circle cx="315.7" cy="184.1" r="18.4"/><circle cx="310.5" cy="217.2" r="11.5"/></g><path id="ashring" d="M179.68,251.68 A103.0,103.0 0 1 1 318.19,251.80" fill="none"/><text font-family="Liberation Sans, sans-serif" font-size="24.6" fill="#b7282e" textLength="493.3" lengthAdjust="spacing" stroke="#fff" stroke-width="0.45"><textPath href="#ashring">AMERICAN SOCIETY OF HEMATOLOGY</textPath></text><path d="M187.9,262.7 L189.0,264.8 L190.2,266.9 L191.5,268.7 L193.1,270.3 L194.8,271.7 L196.6,272.8 L198.6,273.6 L200.8,274.1 L203.0,274.3 L205.3,274.4 L207.7,274.3 L210.0,274.1 L212.2,273.9 L214.4,273.8 L216.6,273.8 L218.6,274.0 L220.6,274.4 L222.5,275.0 L224.4,275.9 L226.2,276.9 L228.0,278.0 L229.9,279.3 L231.8,280.5 L233.7,281.7 L235.7,282.8 L237.7,283.8 L239.8,284.5 L241.9,284.9 L244.0,285.1 L246.1,285.0 L248.3,284.6 L250.4,284.0 L252.5,283.2 L254.5,282.4 L256.6,281.4 L258.6,280.5 L260.5,279.6 L262.5,278.8 L264.4,278.2 L266.4,277.7 L268.4,277.4 L270.5,277.3 L272.5,277.3 L274.6,277.3 L276.8,277.5 L279.0,277.6 L281.2,277.6 L283.4,277.6 L285.5,277.4 L287.6,277.0 L289.7,276.4 L291.7,275.7 L293.5,274.7 L295.3,273.5 L297.1,272.2 L298.7,270.8 L300.3,269.3 L301.8,267.8 L303.3,266.3 L304.8,264.8" fill="none" stroke="#b7282e" stroke-width="2.5" stroke-dasharray="0.1 3.0" stroke-linecap="round"/><path d="M187.9,262.7 L190.3,263.0 L192.5,263.3 L194.7,263.6 L196.7,264.1 L198.6,264.8 L200.4,265.8 L202.1,266.9 L203.6,268.3 L205.1,269.8 L206.6,271.5 L208.1,273.2 L209.6,275.0 L211.2,276.6 L212.9,278.1 L214.7,279.5 L216.6,280.5 L218.6,281.3 L220.7,281.8 L222.9,282.0 L225.1,281.9 L227.3,281.7 L229.5,281.2 L231.7,280.7 L233.9,280.1 L236.1,279.5 L238.2,279.1 L240.2,278.8 L242.3,278.6 L244.3,278.7 L246.3,279.0 L248.3,279.4 L250.3,280.0 L252.4,280.6 L254.5,281.4 L256.6,282.0 L258.8,282.6 L260.9,283.1 L263.1,283.4 L265.2,283.4 L267.4,283.2 L269.4,282.8 L271.5,282.1 L273.4,281.3 L275.4,280.2 L277.2,279.0 L279.0,277.8 L280.8,276.5 L282.6,275.3 L284.3,274.1 L286.1,273.1 L287.9,272.1 L289.8,271.3 L291.7,270.6 L293.7,270.0 L295.7,269.5 L297.8,269.1 L299.9,268.6 L302.0,268.1 L304.0,267.5 L306.1,266.9" fill="none" stroke="#b7282e" stroke-width="2.5" stroke-dasharray="0.1 3.0" stroke-linecap="round"/><circle cx="305.5" cy="263.5" r="1" fill="#b7282e"/><circle cx="309.5" cy="260.5" r="1" fill="#b7282e"/><circle cx="313.5" cy="262.5" r="1" fill="#b7282e"/><circle cx="317.5" cy="258.5" r="1" fill="#b7282e"/><circle cx="300.5" cy="261.5" r="1" fill="#b7282e"/><circle cx="311" cy="266.5" r="1" fill="#b7282e"/><circle cx="343.6" cy="277" r="5.3" fill="none" stroke="#b7282e" stroke-width="0.9"/><text x="343.6" y="280.1" font-family="Liberation Serif, serif" font-size="8.5" text-anchor="middle" fill="#b7282e">R</text>
<path d="M1856.7,162.3 L1874.8,162.3 L1882.3,169.8 L1882.3,197.5 L1874.8,205.0 L1856.7,205.0 L1849.2,197.5 L1849.2,169.8 Z" fill="#c8102e" stroke="#6f7073" stroke-width="1.3"/><path d="M1861.5,173.4 L1869.6000000000001,173.4 L1872.2,176.0 L1872.2,193.20000000000002 L1869.6000000000001,195.8 L1861.5,195.8 L1858.9,193.20000000000002 L1858.9,176.0 Z" fill="#fff" stroke="#7d7f82" stroke-width="1.3"/><path d="M1858.2,165.3 L1873.3,165.3 L1879.3,171.3 L1879.3,196.0 L1873.3,202.0 L1858.2,202.0 L1852.2,196.0 L1852.2,171.3 Z" fill="none" stroke="#e9a0aa" stroke-width="0.6"/>
<defs><filter id="bl" x="-30%" y="-30%" width="160%" height="160%"><feGaussianBlur stdDeviation="1.6"/></filter><filter id="bl2"><feGaussianBlur stdDeviation="0.7"/></filter></defs><g filter="url(#bl2)"><rect x="1956" y="272" width="54" height="27.5" fill="#8796ad" opacity="0.75"/><rect x="1995" y="258" width="67" height="41.5" fill="#7d8da6" opacity="0.8"/><rect x="2050" y="250" width="62" height="49.5" fill="#74859f" opacity="0.85"/><rect x="2100" y="262" width="40" height="37.5" fill="#7b8ba5" opacity="0.8"/><rect x="2130" y="278" width="22" height="21.5" fill="#8595ad" opacity="0.7"/><rect x="1925" y="292" width="227" height="7.5" fill="#7989a2" opacity="0.6"/><line x1="2000" y1="258" x2="2000" y2="299" stroke="#9fadc2" stroke-width="0.8" opacity="0.55"/><line x1="2005" y1="258" x2="2005" y2="299" stroke="#9fadc2" stroke-width="0.8" opacity="0.55"/><line x1="2010" y1="258" x2="2010" y2="299" stroke="#9fadc2" stroke-width="0.8" opacity="0.55"/><line x1="2015" y1="258" x2="2015" y2="299" stroke="#9fadc2" stroke-width="0.8" opacity="0.55"/><line x1="2020" y1="258" x2="2020" y2="299" stroke="#9fadc2" stroke-width="0.8" opacity="0.55"/><line x1="2025" y1="258" x2="2025" y2="299" stroke="#9fadc2" stroke-width="0.8" opacity="0.55"/><line x1="2030" y1="258" x2="2030" y2="299" stroke="#9fadc2" stroke-width="0.8" opacity="0.55"/><line x1="2035" y1="258" x2="2035" y2="299" stroke="#9fadc2" stroke-width="0.8" opacity="0.55"/><line x1="2040" y1="258" x2="2040" y2="299" stroke="#9fadc2" stroke-width="0.8" opacity="0.55"/><line x1="2045" y1="258" x2="2045" y2="299" stroke="#9fadc2" stroke-width="0.8" opacity="0.55"/><line x1="2050" y1="252" x2="2050" y2="299" stroke="#9fadc2" stroke-width="0.8" opacity="0.55"/><line x1="2055" y1="252" x2="2055" y2="299" stroke="#9fadc2" stroke-width="0.8" opacity="0.55"/><line x1="2060" y1="252" x2="2060" y2="299" stroke="#9fadc2" stroke-width="0.8" opacity="0.55"/><line x1="2065" y1="252" x2="2065" y2="299" stroke="#9fadc2" stroke-width="0.8" opacity="0.55"/><line x1="2070" y1="252" x2="2070" y2="299" stroke="#9fadc2" stroke-width="0.8" opacity="0.55"/><line x1="2075" y1="252" x2="2075" y2="299" stroke="#9fadc2" stroke-width="0.8" opacity="0.55"/><line x1="2080" y1="252" x2="2080" y2="299" stroke="#9fadc2" stroke-width="0.8" opacity="0.55"/><line x1="2085" y1="252" x2="2085" y2="299" stroke="#9fadc2" stroke-width="0.8" opacity="0.55"/><line x1="2090" y1="252" x2="2090" y2="299" stroke="#9fadc2" stroke-width="0.8" opacity="0.55"/><line x1="2095" y1="252" x2="2095" y2="299" stroke="#9fadc2" stroke-width="0.8" opacity="0.55"/><line x1="2100" y1="252" x2="2100" y2="299" stroke="#9fadc2" stroke-width="0.8" opacity="0.55"/><line x1="2105" y1="252" x2="2105" y2="299" stroke="#9fadc2" stroke-width="0.8" opacity="0.55"/><line x1="2110" y1="252" x2="2110" y2="299" stroke="#9fadc2" stroke-width="0.8" opacity="0.55"/><line x1="2115" y1="252" x2="2115" y2="299" stroke="#9fadc2" stroke-width="0.8" opacity="0.55"/><line x1="2120" y1="252" x2="2120" y2="299" stroke="#9fadc2" stroke-width="0.8" opacity="0.55"/><line x1="2125" y1="252" x2="2125" y2="299" stroke="#9fadc2" stroke-width="0.8" opacity="0.55"/><line x1="2130" y1="252" x2="2130" y2="299" stroke="#9fadc2" stroke-width="0.8" opacity="0.55"/><line x1="2135" y1="252" x2="2135" y2="299" stroke="#9fadc2" stroke-width="0.8" opacity="0.55"/><line x1="1998" y1="256" x2="2140" y2="256" stroke="#65768f" stroke-width="0.8" opacity="0.45"/><line x1="1998" y1="261" x2="2140" y2="261" stroke="#65768f" stroke-width="0.8" opacity="0.45"/><line x1="1998" y1="266" x2="2140" y2="266" stroke="#65768f" stroke-width="0.8" opacity="0.45"/><line x1="1998" y1="271" x2="2140" y2="271" stroke="#65768f" stroke-width="0.8" opacity="0.45"/><line x1="1998" y1="276" x2="2140" y2="276" stroke="#65768f" stroke-width="0.8" opacity="0.45"/><line x1="1998" y1="281" x2="2140" y2="281" stroke="#65768f" stroke-width="0.8" opacity="0.45"/><line x1="1998" y1="286" x2="2140" y2="286" stroke="#65768f" stroke-width="0.8" opacity="0.45"/><line x1="1998" y1="291" x2="2140" y2="291" stroke="#65768f" stroke-width="0.8" opacity="0.45"/><line x1="1998" y1="296" x2="2140" y2="296" stroke="#65768f" stroke-width="0.8" opacity="0.45"/></g><circle cx="1895" cy="273.5" r="23" fill="#4d545f" opacity="0.55" filter="url(#bl)"/><circle cx="1892" cy="270.5" r="23" fill="#dcdcdc" stroke="#8d8d8d" stroke-width="1"/><circle cx="1892" cy="270.5" r="19.3" fill="none" stroke="#4c4c4c" stroke-width="3.4" stroke-dasharray="1.2 0.9"/><circle cx="1892" cy="270.5" r="15" fill="#ededed" stroke="#6b6b6b" stroke-width="0.9"/><path d="M1882,261.5 l12,-1 l1,5 l7,-2 l3,6 l-5,3 l4,5 l-3,6 l-9,2 l-4,-5 l-7,2 l2,-7 l5,-3 l-7,-3 z" fill="#161616"/><path d="M1883,271.5 l9,2 l2,4 l-8,0 z" fill="#6e6e6e"/>
<g stroke="#000" stroke-width="1.8" fill="none"><line x1="1196.5" y1="625" x2="1196.5" y2="843"/><line x1="1185.7" y1="841.6" x2="1359.7" y2="841.6"/><line x1="1185.7" y1="841.60" x2="1196.5" y2="841.60"/><line x1="1190.9" y1="831.37" x2="1196.5" y2="831.37"/><line x1="1190.9" y1="821.14" x2="1196.5" y2="821.14"/><line x1="1190.9" y1="810.91" x2="1196.5" y2="810.91"/><line x1="1190.9" y1="800.68" x2="1196.5" y2="800.68"/><line x1="1190.9" y1="790.45" x2="1196.5" y2="790.45"/><line x1="1190.9" y1="780.22" x2="1196.5" y2="780.22"/><line x1="1190.9" y1="769.99" x2="1196.5" y2="769.99"/><line x1="1190.9" y1="759.76" x2="1196.5" y2="759.76"/><line x1="1190.9" y1="749.53" x2="1196.5" y2="749.53"/><line x1="1185.7" y1="739.30" x2="1196.5" y2="739.30"/><line x1="1190.9" y1="729.07" x2="1196.5" y2="729.07"/><line x1="1190.9" y1="718.84" x2="1196.5" y2="718.84"/><line x1="1190.9" y1="708.61" x2="1196.5" y2="708.61"/><line x1="1190.9" y1="698.38" x2="1196.5" y2="698.38"/><line x1="1190.9" y1="688.15" x2="1196.5" y2="688.15"/><line x1="1190.9" y1="677.92" x2="1196.5" y2="677.92"/><line x1="1190.9" y1="667.69" x2="1196.5" y2="667.69"/><line x1="1190.9" y1="657.46" x2="1196.5" y2="657.46"/><line x1="1190.9" y1="647.23" x2="1196.5" y2="647.23"/><line x1="1185.7" y1="637.00" x2="1196.5" y2="637.00"/><line x1="1190.9" y1="626.77" x2="1196.5" y2="626.77"/><line x1="1241.7" y1="841.6" x2="1241.7" y2="852.1"/><line x1="1310.6" y1="841.6" x2="1310.6" y2="852.1"/></g><rect x="1219.6" y="637.5" width="45.9" height="204.1" fill="#000"/><rect x="1222.4" y="640.8" width="40.2" height="9.8" fill="#1c8fe6"/><rect x="1219.6" y="651.0" width="45.9" height="2.6" fill="#4a4038"/><rect x="1222.4" y="654.0" width="40.2" height="9.9" fill="#e9a15c"/><rect x="1288.5" y="637.5" width="45.6" height="204.1" fill="#000"/><rect x="1291.5" y="640.8" width="39.6" height="53.1" fill="#1c8fe6"/><text font-family="Liberation Sans, sans-serif" font-size="10.4" x="1242.4" y="648.9" text-anchor="middle" fill="#0a2f66">6.6</text><text font-family="Liberation Sans, sans-serif" font-size="10.4" x="1242.4" y="663.4" text-anchor="middle" fill="#3a2208">6.6</text><text font-family="Liberation Sans, sans-serif" font-size="10.4" x="1311.2" y="671.3" text-anchor="middle" fill="#0a2f66">27.3</text><text font-family="Liberation Sans, sans-serif" font-size="10.4" x="1242.4" y="745.2" text-anchor="middle" fill="#e8e8e8">86.8</text><text font-family="Liberation Sans, sans-serif" font-size="10.4" x="1311.2" y="745.2" text-anchor="middle" fill="#e8e8e8">72.7</text><text font-family="Liberation Sans, sans-serif" font-size="16.4" x="1182.8" y="642.8" text-anchor="end">100</text><text font-family="Liberation Sans, sans-serif" font-size="16.4" x="1181.8" y="745.0999999999999" text-anchor="end">50</text><text font-family="Liberation Sans, sans-serif" font-size="16.4" x="1177.5" y="849.0" text-anchor="end">0</text><text font-family="Liberation Sans, sans-serif" font-size="17.4" font-weight="700" fill="#000" text-anchor="middle" transform="translate(1143.3,733.7) rotate(-90)">Responses (%)</text><text font-family="Liberation Sans, sans-serif" font-size="15.4" x="1235.4" y="870.2" text-anchor="middle">Dara-</text><text font-family="Liberation Sans, sans-serif" font-size="15.4" x="1235.4" y="888.7" text-anchor="middle">Bortezomib</text><text font-family="Liberation Sans, sans-serif" font-size="15.4" x="1320.7" y="870.2" text-anchor="middle">Bortezomib</text><text font-family="Liberation Sans, sans-serif" font-size="25.2" font-weight="700" x="1130" y="622.8">A</text>
<g stroke="#000" stroke-width="1.8" fill="none"><line x1="1507.6" y1="620.5" x2="1507.6" y2="853.2"/><line x1="1497" y1="843.8" x2="1759" y2="843.8"/><line x1="1497" y1="843.80" x2="1507.6" y2="843.80"/><line x1="1502.2" y1="833.73" x2="1507.6" y2="833.73"/><line x1="1502.2" y1="823.66" x2="1507.6" y2="823.66"/><line x1="1502.2" y1="813.59" x2="1507.6" y2="813.59"/><line x1="1502.2" y1="803.52" x2="1507.6" y2="803.52"/><line x1="1502.2" y1="793.45" x2="1507.6" y2="793.45"/><line x1="1502.2" y1="783.38" x2="1507.6" y2="783.38"/><line x1="1502.2" y1="773.31" x2="1507.6" y2="773.31"/><line x1="1502.2" y1="763.24" x2="1507.6" y2="763.24"/><line x1="1502.2" y1="753.17" x2="1507.6" y2="753.17"/><line x1="1497" y1="743.10" x2="1507.6" y2="743.10"/><line x1="1502.2" y1="733.03" x2="1507.6" y2="733.03"/><line x1="1502.2" y1="722.96" x2="1507.6" y2="722.96"/><line x1="1502.2" y1="712.89" x2="1507.6" y2="712.89"/><line x1="1502.2" y1="702.82" x2="1507.6" y2="702.82"/><line x1="1502.2" y1="692.75" x2="1507.6" y2="692.75"/><line x1="1502.2" y1="682.68" x2="1507.6" y2="682.68"/><line x1="1502.2" y1="672.61" x2="1507.6" y2="672.61"/><line x1="1502.2" y1="662.54" x2="1507.6" y2="662.54"/><line x1="1502.2" y1="652.47" x2="1507.6" y2="652.47"/><line x1="1497" y1="642.40" x2="1507.6" y2="642.40"/><line x1="1502.2" y1="632.33" x2="1507.6" y2="632.33"/><line x1="1502.2" y1="622.26" x2="1507.6" y2="622.26"/><line x1="1557.7" y1="843.8" x2="1557.7" y2="853.2"/><line x1="1607.8" y1="843.8" x2="1607.8" y2="853.2"/><line x1="1657.8" y1="843.8" x2="1657.8" y2="853.2"/><line x1="1707.9" y1="843.8" x2="1707.9" y2="853.2"/><line x1="1758.0" y1="843.8" x2="1758.0" y2="853.2"/></g><text font-family="Liberation Sans, sans-serif" font-size="16.4" x="1490.5" y="648.1999999999999" text-anchor="end">100</text><text font-family="Liberation Sans, sans-serif" font-size="16.4" x="1490.5" y="748.9" text-anchor="end">50</text><text font-family="Liberation Sans, sans-serif" font-size="16.4" x="1490.5" y="849.5999999999999" text-anchor="end">0</text><text font-family="Liberation Sans, sans-serif" font-size="16.4" x="1506.6" y="873.7" text-anchor="middle">0</text><text font-family="Liberation Sans, sans-serif" font-size="16.4" x="1556.7" y="873.7" text-anchor="middle">2</text><text font-family="Liberation Sans, sans-serif" font-size="16.4" x="1606.8" y="873.7" text-anchor="middle">4</text><text font-family="Liberation Sans, sans-serif" font-size="16.4" x="1656.8" y="873.7" text-anchor="middle">6</text><text font-family="Liberation Sans, sans-serif" font-size="16.4" x="1706.9" y="873.7" text-anchor="middle">8</text><text font-family="Liberation Sans, sans-serif" font-size="16.4" x="1757.0" y="873.7" text-anchor="middle">10</text><text font-family="Liberation Sans, sans-serif" font-size="17.4" font-weight="700" x="1634.3" y="894.6" text-anchor="middle">Time (years)</text><text font-family="Liberation Sans, sans-serif" font-size="17.4" font-weight="700" fill="#000" text-anchor="middle" transform="translate(1444,747) rotate(-90)">Overall survival (OS)</text><text font-family="Liberation Sans, sans-serif" font-size="25.2" font-weight="700" x="1430" y="622.8">B</text><path d="M1507.6,642.4 L1519.6,642.4 L1519.6,662.3 L1713.5,662.3" fill="none" stroke="#000" stroke-width="1.1"/><line x1="1519.6" y1="642.4" x2="1519.6" y2="636.8" stroke="#000" stroke-width="1.6"/><line x1="1527.9" y1="662.3" x2="1527.9" y2="656.7" stroke="#000" stroke-width="1.6"/><line x1="1530.9" y1="662.3" x2="1530.9" y2="656.7" stroke="#000" stroke-width="1.6"/><line x1="1626.5" y1="662.3" x2="1626.5" y2="656.7" stroke="#000" stroke-width="1.6"/><line x1="1636.6" y1="662.3" x2="1636.6" y2="656.7" stroke="#000" stroke-width="1.6"/><line x1="1652.9" y1="662.3" x2="1652.9" y2="656.7" stroke="#000" stroke-width="1.6"/><line x1="1665.8" y1="662.3" x2="1665.8" y2="656.7" stroke="#000" stroke-width="1.6"/><line x1="1706.5" y1="662.3" x2="1706.5" y2="656.7" stroke="#000" stroke-width="1.6"/><line x1="1713.5" y1="662.3" x2="1713.5" y2="656.7" stroke="#000" stroke-width="1.6"/><path d="M1508.6,642.4 L1510.1,642.4 L1510.1,655.5 L1535.9,655.5 L1535.9,670.9 L1719.6,670.9 L1719.6,843.8" fill="none" stroke="#e5266f" stroke-width="1.1"/><line x1="1511.0" y1="655.5" x2="1511.0" y2="649.9" stroke="#e5266f" stroke-width="1.6"/><line x1="1524.1" y1="655.5" x2="1524.1" y2="649.9" stroke="#e5266f" stroke-width="1.6"/><line x1="1535.4" y1="655.5" x2="1535.4" y2="649.9" stroke="#e5266f" stroke-width="1.6"/><line x1="1549.6" y1="670.9" x2="1549.6" y2="665.3" stroke="#e5266f" stroke-width="1.6"/><line x1="1560.3" y1="670.9" x2="1560.3" y2="665.3" stroke="#e5266f" stroke-width="1.6"/><line x1="1564.3" y1="670.9" x2="1564.3" y2="665.3" stroke="#e5266f" stroke-width="1.6"/><line x1="1568.8" y1="670.9" x2="1568.8" y2="665.3" stroke="#e5266f" stroke-width="1.6"/><line x1="1621.9" y1="670.9" x2="1621.9" y2="665.3" stroke="#e5266f" stroke-width="1.6"/><line x1="1626.9" y1="670.9" x2="1626.9" y2="665.3" stroke="#e5266f" stroke-width="1.6"/><line x1="1632.1" y1="670.9" x2="1632.1" y2="665.3" stroke="#e5266f" stroke-width="1.6"/><line x1="1641.6" y1="670.9" x2="1641.6" y2="665.3" stroke="#e5266f" stroke-width="1.6"/><line x1="1661.9" y1="670.9" x2="1661.9" y2="665.3" stroke="#e5266f" stroke-width="1.6"/><line x1="1703.7" y1="670.9" x2="1703.7" y2="665.3" stroke="#e5266f" stroke-width="1.6"/><line x1="1719.6" y1="843.8" x2="1719.6" y2="838.2" stroke="#e5266f" stroke-width="1.6"/><text font-family="Liberation Sans, sans-serif" font-size="15.4" x="1551.2" y="648.3">Dara-Bortezomib</text><text font-family="Liberation Sans, sans-serif" font-size="15.4" x="1587.4" y="692.8" fill="#e5266f">Bortezomib</text>
<g stroke="#000" stroke-width="1.8" fill="none"><line x1="1875.9" y1="621.6" x2="1875.9" y2="853.3"/><line x1="1865.7" y1="844.3" x2="2128.4" y2="844.3"/><line x1="1865.7" y1="844.30" x2="1875.9" y2="844.30"/><line x1="1870.5" y1="834.24" x2="1875.9" y2="834.24"/><line x1="1870.5" y1="824.18" x2="1875.9" y2="824.18"/><line x1="1870.5" y1="814.12" x2="1875.9" y2="814.12"/><line x1="1870.5" y1="804.06" x2="1875.9" y2="804.06"/><line x1="1870.5" y1="794.00" x2="1875.9" y2="794.00"/><line x1="1870.5" y1="783.94" x2="1875.9" y2="783.94"/><line x1="1870.5" y1="773.88" x2="1875.9" y2="773.88"/><line x1="1870.5" y1="763.82" x2="1875.9" y2="763.82"/><line x1="1870.5" y1="753.76" x2="1875.9" y2="753.76"/><line x1="1865.7" y1="743.70" x2="1875.9" y2="743.70"/><line x1="1870.5" y1="733.64" x2="1875.9" y2="733.64"/><line x1="1870.5" y1="723.58" x2="1875.9" y2="723.58"/><line x1="1870.5" y1="713.52" x2="1875.9" y2="713.52"/><line x1="1870.5" y1="703.46" x2="1875.9" y2="703.46"/><line x1="1870.5" y1="693.40" x2="1875.9" y2="693.40"/><line x1="1870.5" y1="683.34" x2="1875.9" y2="683.34"/><line x1="1870.5" y1="673.28" x2="1875.9" y2="673.28"/><line x1="1870.5" y1="663.22" x2="1875.9" y2="663.22"/><line x1="1870.5" y1="653.16" x2="1875.9" y2="653.16"/><line x1="1865.7" y1="643.10" x2="1875.9" y2="643.10"/><line x1="1870.5" y1="633.04" x2="1875.9" y2="633.04"/><line x1="1870.5" y1="622.98" x2="1875.9" y2="622.98"/><line x1="1959.6" y1="844.3" x2="1959.6" y2="853.3"/><line x1="2043.2" y1="844.3" x2="2043.2" y2="853.3"/><line x1="2126.8" y1="844.3" x2="2126.8" y2="853.3"/></g><line x1="1863.5" y1="640.1" x2="1863.5" y2="646.1" stroke="#666" stroke-width="0.7"/><line x1="1863.5" y1="740.7" x2="1863.5" y2="746.7" stroke="#666" stroke-width="0.7"/><line x1="1863.5" y1="841.3" x2="1863.5" y2="847.3" stroke="#666" stroke-width="0.7"/><text font-family="Liberation Sans, sans-serif" font-size="16.4" x="1857.6" y="648.3000000000001" text-anchor="end">100</text><text font-family="Liberation Sans, sans-serif" font-size="16.4" x="1857.6" y="748.9000000000001" text-anchor="end">50</text><text font-family="Liberation Sans, sans-serif" font-size="16.4" x="1857.6" y="849.5" text-anchor="end">0</text><text font-family="Liberation Sans, sans-serif" font-size="16.4" x="1883.1" y="873.7" text-anchor="middle">0</text><text font-family="Liberation Sans, sans-serif" font-size="16.4" x="1960" y="873.7" text-anchor="middle">5</text><text font-family="Liberation Sans, sans-serif" font-size="16.4" x="2040.2" y="873.7" text-anchor="middle">10</text><text font-family="Liberation Sans, sans-serif" font-size="16.4" x="2122.9" y="873.7" text-anchor="middle">15</text><text font-family="Liberation Sans, sans-serif" font-size="17.4" font-weight="700" x="2010.9" y="894.7" text-anchor="middle">Time (years)</text><text font-family="Liberation Sans, sans-serif" font-size="17.4" font-weight="700" fill="#000" text-anchor="middle" transform="translate(1818.6,751.6) rotate(-90)">Overall survival (OS)</text><text font-family="Liberation Sans, sans-serif" font-size="25.2" font-weight="700" x="1804.4" y="622.8">C</text><path d="M1875.9,643.1 L2100.1,643.1" fill="none" stroke="#000" stroke-width="1.1"/><line x1="1917.7" y1="643.1" x2="1917.7" y2="637.5" stroke="#000" stroke-width="1.6"/><line x1="1955.7" y1="643.1" x2="1955.7" y2="637.5" stroke="#000" stroke-width="1.6"/><line x1="1958.4" y1="643.1" x2="1958.4" y2="637.5" stroke="#000" stroke-width="1.6"/><line x1="1960.6" y1="643.1" x2="1960.6" y2="637.5" stroke="#000" stroke-width="1.6"/><line x1="1962.9" y1="643.1" x2="1962.9" y2="637.5" stroke="#000" stroke-width="1.6"/><line x1="1965.8" y1="643.1" x2="1965.8" y2="637.5" stroke="#000" stroke-width="1.6"/><line x1="2007.0" y1="643.1" x2="2007.0" y2="637.5" stroke="#000" stroke-width="1.6"/><line x1="2008.6" y1="643.1" x2="2008.6" y2="637.5" stroke="#000" stroke-width="1.6"/><line x1="2100.1" y1="643.1" x2="2100.1" y2="637.5" stroke="#000" stroke-width="1.6"/><path d="M1876.9,643.1 L1876.9,653.3 L1883.8,653.3 L1883.8,663.5 L1895.5,663.5 L1895.5,676.6 L2017.6,676.6 L2017.6,844.3" fill="none" stroke="#e5266f" stroke-width="1.1"/><line x1="1878.1" y1="653.3" x2="1878.1" y2="647.7" stroke="#e5266f" stroke-width="1.6"/><line x1="1880.4" y1="653.3" x2="1880.4" y2="647.7" stroke="#e5266f" stroke-width="1.6"/><line x1="1883.8" y1="653.3" x2="1883.8" y2="647.7" stroke="#e5266f" stroke-width="1.6"/><line x1="1884.5" y1="663.5" x2="1884.5" y2="657.9" stroke="#e5266f" stroke-width="1.6"/><line x1="1887.6" y1="663.5" x2="1887.6" y2="657.9" stroke="#e5266f" stroke-width="1.6"/><line x1="1890.6" y1="663.5" x2="1890.6" y2="657.9" stroke="#e5266f" stroke-width="1.6"/><line x1="1893.5" y1="663.5" x2="1893.5" y2="657.9" stroke="#e5266f" stroke-width="1.6"/><line x1="1895.5" y1="663.5" x2="1895.5" y2="657.9" stroke="#e5266f" stroke-width="1.6"/><line x1="1904.1" y1="676.6" x2="1904.1" y2="671.0" stroke="#e5266f" stroke-width="1.6"/><line x1="1911.4" y1="676.6" x2="1911.4" y2="671.0" stroke="#e5266f" stroke-width="1.6"/><line x1="1913.6" y1="676.6" x2="1913.6" y2="671.0" stroke="#e5266f" stroke-width="1.6"/><line x1="1931.3" y1="676.6" x2="1931.3" y2="671.0" stroke="#e5266f" stroke-width="1.6"/><line x1="1933.5" y1="676.6" x2="1933.5" y2="671.0" stroke="#e5266f" stroke-width="1.6"/><line x1="1953.2" y1="676.6" x2="1953.2" y2="671.0" stroke="#e5266f" stroke-width="1.6"/><line x1="1956.1" y1="676.6" x2="1956.1" y2="671.0" stroke="#e5266f" stroke-width="1.6"/><line x1="1973.1" y1="676.6" x2="1973.1" y2="671.0" stroke="#e5266f" stroke-width="1.6"/><line x1="1978.7" y1="676.6" x2="1978.7" y2="671.0" stroke="#e5266f" stroke-width="1.6"/><line x1="1981.7" y1="676.6" x2="1981.7" y2="671.0" stroke="#e5266f" stroke-width="1.6"/><line x1="2013.8" y1="676.6" x2="2013.8" y2="671.0" stroke="#e5266f" stroke-width="1.6"/><line x1="2017.6" y1="844.3" x2="2017.6" y2="838.7" stroke="#e5266f" stroke-width="1.6"/><text font-family="Liberation Sans, sans-serif" font-size="15.4" x="1956.1" y="628.4">Maintenance</text><text font-family="Liberation Sans, sans-serif" font-size="15.4" x="1887.2" y="701.4" fill="#e5266f">No maintenance</text>
<text font-family="Liberation Sans, sans-serif" font-size="19.5" font-weight="700" font-style="italic" fill="#fff" transform="translate(2236.6,164) rotate(-90)" textLength="54" lengthAdjust="spacingAndGlyphs" >Poster</text><text font-family="Liberation Sans, sans-serif" font-size="18.5" font-weight="700" font-style="italic" fill="#fff" transform="translate(2250.4,144.3) rotate(-90)" textLength="109.5" lengthAdjust="spacingAndGlyphs" >SessionOnline</text><text font-family="Liberation Sans, sans-serif" font-size="7.5" font-weight="700" font-style="italic" fill="#fff" transform="translate(2237.5,53) rotate(-90)" textLength="19" lengthAdjust="spacingAndGlyphs" >.com</text><text font-family="Liberation Sans, sans-serif" font-size="4.1" font-weight="700" font-style="normal" fill="#fff" transform="translate(2257.3,142) rotate(-90)" textLength="99" lengthAdjust="spacingAndGlyphs" >SPREADING KNOWLEDGE</text><g stroke="#fff" fill="none" stroke-width="1"><line x1="2259.4" y1="151" x2="2259.4" y2="36"/><path d="M2255.5,38.2 L2259.4,32.6 L2263.3,38.2"/><circle cx="2256.6" cy="161.1" r="9"/><ellipse cx="2256.6" cy="161.1" rx="4" ry="9"/><line x1="2247.6" y1="161.1" x2="2265.6" y2="161.1"/><line x1="2256.6" y1="152.1" x2="2256.6" y2="170.1"/><path d="M2249,156.5 Q2256.6,159 2264.2,156.5 M2249,165.7 Q2256.6,163.2 2264.2,165.7" /><circle cx="2244.5" cy="154" r="1.3"/><circle cx="2248.5" cy="149.8" r="1.3"/><path d="M2245.5,155 L2249.5,158 M2249.3,151 L2252,154.5"/></g><text font-family="Liberation Serif, serif" font-size="15" font-weight="400" font-style="normal" fill="#fff" transform="translate(2245.3,654.3) rotate(-90)" textLength="202.5" lengthAdjust="spacingAndGlyphs" >American Society <tspan font-style="italic" font-size="10.5">of</tspan> Hematology</text><text font-family="Liberation Sans, sans-serif" font-size="7.0" font-weight="400" font-style="normal" fill="#f6d9e0" transform="translate(2256.9,646.6) rotate(-90)" textLength="180" lengthAdjust="spacingAndGlyphs" >Helping hematologists conquer blood diseases worldwide</text><g transform="translate(2244.5,685.8) rotate(-90) scale(0.168) translate(-249,-175.5)" fill="#fff"><path d="M281.7,99.1 A81.7,81.7 0 1 0 268,253.2 C281,250 292,236 294.2,219 C296,203 289,195 280.5,186.5 C268,174 254,160 251.3,142 C249.5,125 262,109 281.7,99.1 Z"/><circle cx="290.9" cy="136" r="29.7"/><circle cx="315.7" cy="184.1" r="18.4"/><circle cx="310.5" cy="217.2" r="11.5"/><path id="ashring2" d="M173.6,247.1 A104,104 0 1 1 323.8,247.7" fill="none"/><text font-family="Liberation Sans, sans-serif" font-size="25" font-weight="700" fill="#f3c9d2" textLength="485" lengthAdjust="spacing"><textPath href="#ashring2">AMERICAN SOCIETY OF HEMATOLOGY</textPath></text></g><text font-family="Liberation Sans, sans-serif" font-size="13.5" font-weight="400" font-style="normal" fill="#fbe4ea" transform="translate(2230.2,1264) rotate(-90)" textLength="510" lengthAdjust="spacingAndGlyphs" >652. MGUS, Amyloidosis, and Other Non-Myeloma Plasma Cell Dyscrasias: Clinical and Epidemiological:</text><text font-family="Liberation Sans, sans-serif" font-size="13.5" font-weight="400" font-style="normal" fill="#fbe4ea" transform="translate(2245.5,1264) rotate(-90)" textLength="46" lengthAdjust="spacingAndGlyphs" >Poster II</text><text font-family="Liberation Sans, sans-serif" font-size="13.5" font-weight="400" font-style="normal" fill="#fbe4ea" transform="translate(2267,1264) rotate(-90)" textLength="84" lengthAdjust="spacingAndGlyphs" >Francesca Cottini</text><text font-family="Liberation Sans, sans-serif" font-size="23.7" font-weight="400" font-style="normal" fill="#fdeef2" transform="translate(2232.9,1387) rotate(-90)" textLength="84.3" lengthAdjust="spacingAndGlyphs" >SUN-3298</text><text font-family="Liberation Sans, sans-serif" font-size="10.6" fill="#fdeef2" x="2224.3" y="1406.7" textLength="38.7" lengthAdjust="spacingAndGlyphs">ASH2024</text><rect x="2246" y="1281.64" width="27.7" height="7.03" fill="rgb(38,38,38)"/><rect x="2246" y="1292.18" width="27.7" height="1.76" fill="rgb(0,0,0)"/><rect x="2246" y="1295.11" width="27.7" height="1.17" fill="rgb(127,127,127)"/><rect x="2246" y="1298.63" width="27.7" height="2.34" fill="rgb(0,0,0)"/><rect x="2246" y="1301.56" width="27.7" height="2.34" fill="rgb(25,25,25)"/><rect x="2246" y="1305.07" width="27.7" height="2.34" fill="rgb(0,0,0)"/><rect x="2246" y="1310.35" width="27.7" height="1.17" fill="rgb(0,0,0)"/><rect x="2246" y="1313.86" width="27.7" height="4.10" fill="rgb(38,38,38)"/><rect x="2246" y="1320.31" width="27.7" height="0.70" fill="rgb(76,76,76)"/><rect x="2246" y="1323.24" width="27.7" height="1.76" fill="rgb(0,0,0)"/><rect x="2246" y="1326.17" width="27.7" height="2.34" fill="rgb(0,0,0)"/><rect x="2246" y="1330.27" width="27.7" height="2.93" fill="rgb(0,0,0)"/><rect x="2246" y="1333.78" width="27.7" height="2.93" fill="rgb(114,114,114)"/><rect x="2246" y="1340.23" width="27.7" height="1.76" fill="rgb(0,0,0)"/><rect x="2246" y="1343.16" width="27.7" height="1.76" fill="rgb(0,0,0)"/><rect x="2246" y="1345.50" width="27.7" height="1.76" fill="rgb(114,114,114)"/><rect x="2246" y="1351.95" width="27.7" height="1.17" fill="rgb(0,0,0)"/><rect x="2246" y="1354.87" width="27.7" height="0.70" fill="rgb(50,50,50)"/><rect x="2246" y="1357.80" width="27.7" height="1.76" fill="rgb(0,0,0)"/><rect x="2246" y="1361.91" width="27.7" height="2.34" fill="rgb(0,0,0)"/><rect x="2246" y="1365.42" width="27.7" height="1.76" fill="rgb(114,114,114)"/><rect x="2246" y="1367.76" width="27.7" height="2.93" fill="rgb(0,0,0)"/><rect x="2246" y="1371.87" width="27.7" height="1.76" fill="rgb(25,25,25)"/><rect x="2246" y="1374.79" width="27.7" height="1.76" fill="rgb(0,0,0)"/><rect x="2246" y="1378.90" width="27.7" height="2.34" fill="rgb(0,0,0)"/><rect x="2246" y="1383.58" width="27.7" height="2.93" fill="rgb(38,38,38)"/><path d="M2232.06,375.90h1.12v1.12h-1.12zM2237.65,375.90h1.12v1.12h-1.12zM2239.89,375.90h1.12v1.12h-1.12zM2243.24,375.90h3.36v1.12h-3.36zM2248.83,375.90h1.12v1.12h-1.12zM2251.07,375.90h1.12v1.12h-1.12zM2253.31,375.90h2.24v1.12h-2.24zM2256.66,375.90h2.24v1.12h-2.24zM2261.13,375.90h1.12v1.12h-1.12zM2228.70,377.02h1.12v1.12h-1.12zM2234.29,377.02h6.71v1.12h-6.71zM2242.12,377.02h1.12v1.12h-1.12zM2244.36,377.02h2.24v1.12h-2.24zM2247.71,377.02h2.24v1.12h-2.24zM2252.19,377.02h1.12v1.12h-1.12zM2254.42,377.02h1.12v1.12h-1.12zM2257.78,377.02h1.12v1.12h-1.12zM2260.02,377.02h1.12v1.12h-1.12zM2225.35,378.14h3.36v1.12h-3.36zM2229.82,378.14h1.12v1.12h-1.12zM2234.29,378.14h2.24v1.12h-2.24zM2238.77,378.14h1.12v1.12h-1.12zM2243.24,378.14h1.12v1.12h-1.12zM2245.48,378.14h2.24v1.12h-2.24zM2249.95,378.14h1.12v1.12h-1.12zM2253.31,378.14h5.59v1.12h-5.59zM2261.13,378.14h1.12v1.12h-1.12zM2225.35,379.26h1.12v1.12h-1.12zM2228.70,379.26h2.24v1.12h-2.24zM2233.18,379.26h3.36v1.12h-3.36zM2237.65,379.26h1.12v1.12h-1.12zM2241.00,379.26h1.12v1.12h-1.12zM2246.60,379.26h3.36v1.12h-3.36zM2251.07,379.26h1.12v1.12h-1.12zM2256.66,379.26h1.12v1.12h-1.12zM2260.02,379.26h2.24v1.12h-2.24zM2225.35,380.37h3.36v1.12h-3.36zM2232.06,380.37h4.47v1.12h-4.47zM2238.77,380.37h1.12v1.12h-1.12zM2251.07,380.37h1.12v1.12h-1.12zM2253.31,380.37h1.12v1.12h-1.12zM2257.78,380.37h1.12v1.12h-1.12zM2225.35,381.49h1.12v1.12h-1.12zM2227.58,381.49h1.12v1.12h-1.12zM2229.82,381.49h1.12v1.12h-1.12zM2234.29,381.49h1.12v1.12h-1.12zM2238.77,381.49h1.12v1.12h-1.12zM2251.07,381.49h1.12v1.12h-1.12zM2253.31,381.49h1.12v1.12h-1.12zM2256.66,381.49h1.12v1.12h-1.12zM2261.13,381.49h1.12v1.12h-1.12zM2228.70,382.61h1.12v1.12h-1.12zM2234.29,382.61h3.36v1.12h-3.36zM2238.77,382.61h1.12v1.12h-1.12zM2247.71,382.61h1.12v1.12h-1.12zM2249.95,382.61h7.83v1.12h-7.83zM2258.90,382.61h1.12v1.12h-1.12zM2225.35,383.73h1.12v1.12h-1.12zM2227.58,383.73h5.59v1.12h-5.59zM2234.29,383.73h2.24v1.12h-2.24zM2237.65,383.73h1.12v1.12h-1.12zM2239.89,383.73h1.12v1.12h-1.12zM2249.95,383.73h1.12v1.12h-1.12zM2253.31,383.73h2.24v1.12h-2.24zM2261.13,383.73h1.12v1.12h-1.12zM2217.52,384.85h2.24v1.12h-2.24zM2221.99,384.85h1.12v1.12h-1.12zM2225.35,384.85h4.47v1.12h-4.47zM2230.94,384.85h1.12v1.12h-1.12zM2235.41,384.85h1.12v1.12h-1.12zM2237.65,384.85h3.36v1.12h-3.36zM2247.71,384.85h2.24v1.12h-2.24zM2251.07,384.85h1.12v1.12h-1.12zM2253.31,384.85h2.24v1.12h-2.24zM2257.78,384.85h1.12v1.12h-1.12zM2260.02,384.85h1.12v1.12h-1.12zM2263.37,384.85h3.36v1.12h-3.36zM2267.84,384.85h1.12v1.12h-1.12zM2270.08,384.85h1.12v1.12h-1.12zM2219.76,385.97h1.12v1.12h-1.12zM2221.99,385.97h1.12v1.12h-1.12zM2224.23,385.97h2.24v1.12h-2.24zM2227.58,385.97h2.24v1.12h-2.24zM2232.06,385.97h2.24v1.12h-2.24zM2238.77,385.97h1.12v1.12h-1.12zM2241.00,385.97h1.12v1.12h-1.12zM2245.48,385.97h1.12v1.12h-1.12zM2247.71,385.97h2.24v1.12h-2.24zM2251.07,385.97h2.24v1.12h-2.24zM2254.42,385.97h1.12v1.12h-1.12zM2257.78,385.97h2.24v1.12h-2.24zM2262.25,385.97h1.12v1.12h-1.12zM2265.61,385.97h3.36v1.12h-3.36zM2216.40,387.08h2.24v1.12h-2.24zM2221.99,387.08h1.12v1.12h-1.12zM2227.58,387.08h1.12v1.12h-1.12zM2229.82,387.08h1.12v1.12h-1.12zM2234.29,387.08h2.24v1.12h-2.24zM2237.65,387.08h1.12v1.12h-1.12zM2239.89,387.08h2.24v1.12h-2.24zM2243.24,387.08h5.59v1.12h-5.59zM2252.19,387.08h3.36v1.12h-3.36zM2256.66,387.08h1.12v1.12h-1.12zM2258.90,387.08h2.24v1.12h-2.24zM2262.25,387.08h1.12v1.12h-1.12zM2264.49,387.08h1.12v1.12h-1.12zM2268.96,387.08h1.12v1.12h-1.12zM2216.40,388.20h1.12v1.12h-1.12zM2218.64,388.20h4.47v1.12h-4.47zM2224.23,388.20h1.12v1.12h-1.12zM2227.58,388.20h1.12v1.12h-1.12zM2229.82,388.20h2.24v1.12h-2.24zM2233.18,388.20h1.12v1.12h-1.12zM2235.41,388.20h2.24v1.12h-2.24zM2238.77,388.20h1.12v1.12h-1.12zM2241.00,388.20h2.24v1.12h-2.24zM2245.48,388.20h2.24v1.12h-2.24zM2251.07,388.20h1.12v1.12h-1.12zM2253.31,388.20h3.36v1.12h-3.36zM2257.78,388.20h3.36v1.12h-3.36zM2264.49,388.20h1.12v1.12h-1.12zM2266.73,388.20h1.12v1.12h-1.12zM2216.40,389.32h5.59v1.12h-5.59zM2223.11,389.32h1.12v1.12h-1.12zM2225.35,389.32h1.12v1.12h-1.12zM2229.82,389.32h1.12v1.12h-1.12zM2232.06,389.32h5.59v1.12h-5.59zM2238.77,389.32h6.71v1.12h-6.71zM2246.60,389.32h1.12v1.12h-1.12zM2248.83,389.32h1.12v1.12h-1.12zM2253.31,389.32h1.12v1.12h-1.12zM2255.54,389.32h1.12v1.12h-1.12zM2257.78,389.32h1.12v1.12h-1.12zM2261.13,389.32h6.71v1.12h-6.71zM2268.96,389.32h2.24v1.12h-2.24zM2216.40,390.44h2.24v1.12h-2.24zM2220.87,390.44h2.24v1.12h-2.24zM2226.47,390.44h1.12v1.12h-1.12zM2228.70,390.44h2.24v1.12h-2.24zM2232.06,390.44h2.24v1.12h-2.24zM2236.53,390.44h4.47v1.12h-4.47zM2242.12,390.44h1.12v1.12h-1.12zM2244.36,390.44h11.18v1.12h-11.18zM2256.66,390.44h1.12v1.12h-1.12zM2258.90,390.44h1.12v1.12h-1.12zM2261.13,390.44h3.36v1.12h-3.36zM2268.96,390.44h2.24v1.12h-2.24zM2217.52,391.56h1.12v1.12h-1.12zM2219.76,391.56h1.12v1.12h-1.12zM2224.23,391.56h2.24v1.12h-2.24zM2227.58,391.56h4.47v1.12h-4.47zM2234.29,391.56h6.71v1.12h-6.71zM2242.12,391.56h2.24v1.12h-2.24zM2245.48,391.56h7.83v1.12h-7.83zM2260.02,391.56h1.12v1.12h-1.12zM2266.73,391.56h1.12v1.12h-1.12zM2268.96,391.56h2.24v1.12h-2.24zM2216.40,392.68h3.36v1.12h-3.36zM2220.87,392.68h2.24v1.12h-2.24zM2225.35,392.68h4.47v1.12h-4.47zM2233.18,392.68h5.59v1.12h-5.59zM2242.12,392.68h1.12v1.12h-1.12zM2244.36,392.68h1.12v1.12h-1.12zM2246.60,392.68h1.12v1.12h-1.12zM2249.95,392.68h2.24v1.12h-2.24zM2253.31,392.68h3.36v1.12h-3.36zM2262.25,392.68h1.12v1.12h-1.12zM2264.49,392.68h2.24v1.12h-2.24zM2267.84,392.68h1.12v1.12h-1.12zM2270.08,392.68h1.12v1.12h-1.12zM2217.52,393.79h4.47v1.12h-4.47zM2223.11,393.79h1.12v1.12h-1.12zM2225.35,393.79h3.36v1.12h-3.36zM2233.18,393.79h2.24v1.12h-2.24zM2236.53,393.79h4.47v1.12h-4.47zM2243.24,393.79h1.12v1.12h-1.12zM2245.48,393.79h1.12v1.12h-1.12zM2251.07,393.79h2.24v1.12h-2.24zM2255.54,393.79h6.71v1.12h-6.71zM2264.49,393.79h1.12v1.12h-1.12zM2218.64,394.91h1.12v1.12h-1.12zM2223.11,394.91h4.47v1.12h-4.47zM2230.94,394.91h1.12v1.12h-1.12zM2233.18,394.91h1.12v1.12h-1.12zM2235.41,394.91h1.12v1.12h-1.12zM2245.48,394.91h1.12v1.12h-1.12zM2248.83,394.91h1.12v1.12h-1.12zM2252.19,394.91h4.47v1.12h-4.47zM2261.13,394.91h2.24v1.12h-2.24zM2266.73,394.91h1.12v1.12h-1.12zM2268.96,394.91h2.24v1.12h-2.24zM2216.40,396.03h1.12v1.12h-1.12zM2219.76,396.03h1.12v1.12h-1.12zM2223.11,396.03h2.24v1.12h-2.24zM2229.82,396.03h2.24v1.12h-2.24zM2234.29,396.03h2.24v1.12h-2.24zM2238.77,396.03h3.36v1.12h-3.36zM2244.36,396.03h2.24v1.12h-2.24zM2251.07,396.03h1.12v1.12h-1.12zM2255.54,396.03h1.12v1.12h-1.12zM2260.02,396.03h1.12v1.12h-1.12zM2263.37,396.03h6.71v1.12h-6.71zM2216.40,397.15h1.12v1.12h-1.12zM2227.58,397.15h5.59v1.12h-5.59zM2236.53,397.15h2.24v1.12h-2.24zM2239.89,397.15h2.24v1.12h-2.24zM2243.24,397.15h1.12v1.12h-1.12zM2245.48,397.15h1.12v1.12h-1.12zM2248.83,397.15h1.12v1.12h-1.12zM2252.19,397.15h2.24v1.12h-2.24zM2255.54,397.15h1.12v1.12h-1.12zM2258.90,397.15h2.24v1.12h-2.24zM2265.61,397.15h2.24v1.12h-2.24zM2268.96,397.15h2.24v1.12h-2.24zM2216.40,398.27h2.24v1.12h-2.24zM2219.76,398.27h3.36v1.12h-3.36zM2226.47,398.27h1.12v1.12h-1.12zM2228.70,398.27h2.24v1.12h-2.24zM2232.06,398.27h1.12v1.12h-1.12zM2234.29,398.27h3.36v1.12h-3.36zM2238.77,398.27h1.12v1.12h-1.12zM2241.00,398.27h2.24v1.12h-2.24zM2244.36,398.27h1.12v1.12h-1.12zM2246.60,398.27h2.24v1.12h-2.24zM2251.07,398.27h3.36v1.12h-3.36zM2255.54,398.27h1.12v1.12h-1.12zM2261.13,398.27h2.24v1.12h-2.24zM2264.49,398.27h1.12v1.12h-1.12zM2268.96,398.27h1.12v1.12h-1.12zM2218.64,399.39h1.12v1.12h-1.12zM2220.87,399.39h1.12v1.12h-1.12zM2224.23,399.39h3.36v1.12h-3.36zM2228.70,399.39h1.12v1.12h-1.12zM2230.94,399.39h2.24v1.12h-2.24zM2234.29,399.39h2.24v1.12h-2.24zM2238.77,399.39h2.24v1.12h-2.24zM2244.36,399.39h2.24v1.12h-2.24zM2248.83,399.39h4.47v1.12h-4.47zM2254.42,399.39h1.12v1.12h-1.12zM2256.66,399.39h1.12v1.12h-1.12zM2261.13,399.39h2.24v1.12h-2.24zM2264.49,399.39h2.24v1.12h-2.24zM2270.08,399.39h1.12v1.12h-1.12zM2217.52,400.50h1.12v1.12h-1.12zM2226.47,400.50h1.12v1.12h-1.12zM2229.82,400.50h1.12v1.12h-1.12zM2232.06,400.50h1.12v1.12h-1.12zM2236.53,400.50h1.12v1.12h-1.12zM2238.77,400.50h2.24v1.12h-2.24zM2246.60,400.50h3.36v1.12h-3.36zM2253.31,400.50h1.12v1.12h-1.12zM2260.02,400.50h1.12v1.12h-1.12zM2266.73,400.50h1.12v1.12h-1.12zM2268.96,400.50h2.24v1.12h-2.24zM2218.64,401.62h1.12v1.12h-1.12zM2226.47,401.62h1.12v1.12h-1.12zM2229.82,401.62h2.24v1.12h-2.24zM2234.29,401.62h1.12v1.12h-1.12zM2236.53,401.62h4.47v1.12h-4.47zM2247.71,401.62h2.24v1.12h-2.24zM2252.19,401.62h1.12v1.12h-1.12zM2255.54,401.62h1.12v1.12h-1.12zM2257.78,401.62h2.24v1.12h-2.24zM2266.73,401.62h1.12v1.12h-1.12zM2268.96,401.62h2.24v1.12h-2.24zM2216.40,402.74h1.12v1.12h-1.12zM2219.76,402.74h1.12v1.12h-1.12zM2226.47,402.74h1.12v1.12h-1.12zM2228.70,402.74h1.12v1.12h-1.12zM2230.94,402.74h1.12v1.12h-1.12zM2233.18,402.74h1.12v1.12h-1.12zM2237.65,402.74h1.12v1.12h-1.12zM2239.89,402.74h1.12v1.12h-1.12zM2246.60,402.74h1.12v1.12h-1.12zM2248.83,402.74h2.24v1.12h-2.24zM2255.54,402.74h1.12v1.12h-1.12zM2258.90,402.74h1.12v1.12h-1.12zM2266.73,402.74h3.36v1.12h-3.36zM2216.40,403.86h1.12v1.12h-1.12zM2218.64,403.86h2.24v1.12h-2.24zM2226.47,403.86h2.24v1.12h-2.24zM2229.82,403.86h5.59v1.12h-5.59zM2237.65,403.86h2.24v1.12h-2.24zM2247.71,403.86h1.12v1.12h-1.12zM2251.07,403.86h2.24v1.12h-2.24zM2258.90,403.86h1.12v1.12h-1.12zM2267.84,403.86h3.36v1.12h-3.36zM2216.40,404.98h1.12v1.12h-1.12zM2218.64,404.98h1.12v1.12h-1.12zM2228.70,404.98h1.12v1.12h-1.12zM2230.94,404.98h2.24v1.12h-2.24zM2236.53,404.98h1.12v1.12h-1.12zM2238.77,404.98h1.12v1.12h-1.12zM2247.71,404.98h5.59v1.12h-5.59zM2254.42,404.98h1.12v1.12h-1.12zM2256.66,404.98h3.36v1.12h-3.36zM2268.96,404.98h2.24v1.12h-2.24zM2216.40,406.10h3.36v1.12h-3.36zM2220.87,406.10h2.24v1.12h-2.24zM2226.47,406.10h2.24v1.12h-2.24zM2229.82,406.10h1.12v1.12h-1.12zM2232.06,406.10h1.12v1.12h-1.12zM2235.41,406.10h2.24v1.12h-2.24zM2239.89,406.10h2.24v1.12h-2.24zM2244.36,406.10h1.12v1.12h-1.12zM2247.71,406.10h1.12v1.12h-1.12zM2251.07,406.10h2.24v1.12h-2.24zM2254.42,406.10h2.24v1.12h-2.24zM2258.90,406.10h2.24v1.12h-2.24zM2262.25,406.10h1.12v1.12h-1.12zM2266.73,406.10h2.24v1.12h-2.24zM2216.40,407.21h1.12v1.12h-1.12zM2218.64,407.21h4.47v1.12h-4.47zM2225.35,407.21h1.12v1.12h-1.12zM2227.58,407.21h1.12v1.12h-1.12zM2229.82,407.21h3.36v1.12h-3.36zM2234.29,407.21h1.12v1.12h-1.12zM2236.53,407.21h1.12v1.12h-1.12zM2239.89,407.21h1.12v1.12h-1.12zM2243.24,407.21h2.24v1.12h-2.24zM2246.60,407.21h3.36v1.12h-3.36zM2251.07,407.21h1.12v1.12h-1.12zM2255.54,407.21h1.12v1.12h-1.12zM2257.78,407.21h1.12v1.12h-1.12zM2261.13,407.21h1.12v1.12h-1.12zM2264.49,407.21h1.12v1.12h-1.12zM2266.73,407.21h1.12v1.12h-1.12zM2216.40,408.33h1.12v1.12h-1.12zM2218.64,408.33h1.12v1.12h-1.12zM2223.11,408.33h1.12v1.12h-1.12zM2225.35,408.33h3.36v1.12h-3.36zM2230.94,408.33h1.12v1.12h-1.12zM2234.29,408.33h1.12v1.12h-1.12zM2236.53,408.33h3.36v1.12h-3.36zM2243.24,408.33h3.36v1.12h-3.36zM2247.71,408.33h1.12v1.12h-1.12zM2251.07,408.33h1.12v1.12h-1.12zM2253.31,408.33h2.24v1.12h-2.24zM2256.66,408.33h3.36v1.12h-3.36zM2261.13,408.33h1.12v1.12h-1.12zM2263.37,408.33h1.12v1.12h-1.12zM2265.61,408.33h1.12v1.12h-1.12zM2267.84,408.33h1.12v1.12h-1.12zM2223.11,409.45h1.12v1.12h-1.12zM2226.47,409.45h11.18v1.12h-11.18zM2238.77,409.45h2.24v1.12h-2.24zM2244.36,409.45h2.24v1.12h-2.24zM2247.71,409.45h2.24v1.12h-2.24zM2260.02,409.45h1.12v1.12h-1.12zM2265.61,409.45h4.47v1.12h-4.47zM2217.52,410.57h1.12v1.12h-1.12zM2220.87,410.57h2.24v1.12h-2.24zM2224.23,410.57h8.95v1.12h-8.95zM2236.53,410.57h1.12v1.12h-1.12zM2238.77,410.57h4.47v1.12h-4.47zM2245.48,410.57h1.12v1.12h-1.12zM2247.71,410.57h1.12v1.12h-1.12zM2252.19,410.57h3.36v1.12h-3.36zM2256.66,410.57h2.24v1.12h-2.24zM2260.02,410.57h1.12v1.12h-1.12zM2262.25,410.57h1.12v1.12h-1.12zM2265.61,410.57h1.12v1.12h-1.12zM2267.84,410.57h2.24v1.12h-2.24zM2217.52,411.69h1.12v1.12h-1.12zM2219.76,411.69h1.12v1.12h-1.12zM2221.99,411.69h1.12v1.12h-1.12zM2226.47,411.69h1.12v1.12h-1.12zM2228.70,411.69h6.71v1.12h-6.71zM2236.53,411.69h4.47v1.12h-4.47zM2242.12,411.69h3.36v1.12h-3.36zM2246.60,411.69h3.36v1.12h-3.36zM2251.07,411.69h2.24v1.12h-2.24zM2254.42,411.69h1.12v1.12h-1.12zM2256.66,411.69h1.12v1.12h-1.12zM2258.90,411.69h4.47v1.12h-4.47zM2264.49,411.69h2.24v1.12h-2.24zM2270.08,411.69h1.12v1.12h-1.12zM2218.64,412.81h4.47v1.12h-4.47zM2224.23,412.81h2.24v1.12h-2.24zM2228.70,412.81h2.24v1.12h-2.24zM2232.06,412.81h2.24v1.12h-2.24zM2236.53,412.81h2.24v1.12h-2.24zM2239.89,412.81h1.12v1.12h-1.12zM2242.12,412.81h1.12v1.12h-1.12zM2244.36,412.81h2.24v1.12h-2.24zM2247.71,412.81h1.12v1.12h-1.12zM2253.31,412.81h1.12v1.12h-1.12zM2255.54,412.81h1.12v1.12h-1.12zM2257.78,412.81h1.12v1.12h-1.12zM2260.02,412.81h1.12v1.12h-1.12zM2264.49,412.81h1.12v1.12h-1.12zM2267.84,412.81h1.12v1.12h-1.12zM2216.40,413.92h4.47v1.12h-4.47zM2221.99,413.92h2.24v1.12h-2.24zM2225.35,413.92h1.12v1.12h-1.12zM2227.58,413.92h3.36v1.12h-3.36zM2233.18,413.92h1.12v1.12h-1.12zM2236.53,413.92h1.12v1.12h-1.12zM2239.89,413.92h2.24v1.12h-2.24zM2243.24,413.92h1.12v1.12h-1.12zM2245.48,413.92h1.12v1.12h-1.12zM2247.71,413.92h1.12v1.12h-1.12zM2249.95,413.92h2.24v1.12h-2.24zM2254.42,413.92h1.12v1.12h-1.12zM2256.66,413.92h3.36v1.12h-3.36zM2261.13,413.92h4.47v1.12h-4.47zM2216.40,415.04h5.59v1.12h-5.59zM2223.11,415.04h3.36v1.12h-3.36zM2233.18,415.04h1.12v1.12h-1.12zM2235.41,415.04h3.36v1.12h-3.36zM2239.89,415.04h4.47v1.12h-4.47zM2245.48,415.04h1.12v1.12h-1.12zM2249.95,415.04h3.36v1.12h-3.36zM2256.66,415.04h3.36v1.12h-3.36zM2261.13,415.04h5.59v1.12h-5.59zM2268.96,415.04h1.12v1.12h-1.12zM2216.40,416.16h1.12v1.12h-1.12zM2218.64,416.16h1.12v1.12h-1.12zM2223.11,416.16h1.12v1.12h-1.12zM2227.58,416.16h2.24v1.12h-2.24zM2232.06,416.16h1.12v1.12h-1.12zM2234.29,416.16h1.12v1.12h-1.12zM2238.77,416.16h1.12v1.12h-1.12zM2243.24,416.16h2.24v1.12h-2.24zM2248.83,416.16h2.24v1.12h-2.24zM2252.19,416.16h2.24v1.12h-2.24zM2255.54,416.16h1.12v1.12h-1.12zM2257.78,416.16h5.59v1.12h-5.59zM2264.49,416.16h2.24v1.12h-2.24zM2268.96,416.16h2.24v1.12h-2.24zM2216.40,417.28h1.12v1.12h-1.12zM2218.64,417.28h2.24v1.12h-2.24zM2221.99,417.28h2.24v1.12h-2.24zM2226.47,417.28h1.12v1.12h-1.12zM2232.06,417.28h1.12v1.12h-1.12zM2235.41,417.28h1.12v1.12h-1.12zM2237.65,417.28h1.12v1.12h-1.12zM2246.60,417.28h1.12v1.12h-1.12zM2249.95,417.28h1.12v1.12h-1.12zM2252.19,417.28h1.12v1.12h-1.12zM2257.78,417.28h1.12v1.12h-1.12zM2260.02,417.28h1.12v1.12h-1.12zM2263.37,417.28h1.12v1.12h-1.12zM2266.73,417.28h1.12v1.12h-1.12zM2218.64,418.40h1.12v1.12h-1.12zM2226.47,418.40h2.24v1.12h-2.24zM2232.06,418.40h1.12v1.12h-1.12zM2241.00,418.40h1.12v1.12h-1.12zM2245.48,418.40h1.12v1.12h-1.12zM2247.71,418.40h1.12v1.12h-1.12zM2249.95,418.40h2.24v1.12h-2.24zM2253.31,418.40h2.24v1.12h-2.24zM2256.66,418.40h1.12v1.12h-1.12zM2261.13,418.40h8.95v1.12h-8.95zM2217.52,419.52h3.36v1.12h-3.36zM2221.99,419.52h2.24v1.12h-2.24zM2225.35,419.52h2.24v1.12h-2.24zM2228.70,419.52h2.24v1.12h-2.24zM2234.29,419.52h1.12v1.12h-1.12zM2236.53,419.52h1.12v1.12h-1.12zM2238.77,419.52h3.36v1.12h-3.36zM2246.60,419.52h2.24v1.12h-2.24zM2252.19,419.52h1.12v1.12h-1.12zM2255.54,419.52h3.36v1.12h-3.36zM2260.02,419.52h2.24v1.12h-2.24zM2263.37,419.52h2.24v1.12h-2.24zM2266.73,419.52h4.47v1.12h-4.47zM2223.11,420.63h6.71v1.12h-6.71zM2230.94,420.63h3.36v1.12h-3.36zM2235.41,420.63h1.12v1.12h-1.12zM2237.65,420.63h3.36v1.12h-3.36zM2248.83,420.63h1.12v1.12h-1.12zM2251.07,420.63h1.12v1.12h-1.12zM2255.54,420.63h2.24v1.12h-2.24zM2260.02,420.63h1.12v1.12h-1.12zM2266.73,420.63h2.24v1.12h-2.24zM2270.08,420.63h1.12v1.12h-1.12zM2225.35,421.75h1.12v1.12h-1.12zM2228.70,421.75h1.12v1.12h-1.12zM2230.94,421.75h1.12v1.12h-1.12zM2234.29,421.75h1.12v1.12h-1.12zM2236.53,421.75h1.12v1.12h-1.12zM2238.77,421.75h1.12v1.12h-1.12zM2249.95,421.75h2.24v1.12h-2.24zM2255.54,421.75h5.59v1.12h-5.59zM2266.73,421.75h4.47v1.12h-4.47zM2229.82,422.87h1.12v1.12h-1.12zM2232.06,422.87h2.24v1.12h-2.24zM2237.65,422.87h1.12v1.12h-1.12zM2239.89,422.87h1.12v1.12h-1.12zM2246.60,422.87h4.47v1.12h-4.47zM2253.31,422.87h3.36v1.12h-3.36zM2257.78,422.87h2.24v1.12h-2.24zM2267.84,422.87h1.12v1.12h-1.12zM2270.08,422.87h1.12v1.12h-1.12zM2226.47,423.99h3.36v1.12h-3.36zM2230.94,423.99h1.12v1.12h-1.12zM2234.29,423.99h1.12v1.12h-1.12zM2236.53,423.99h1.12v1.12h-1.12zM2249.95,423.99h4.47v1.12h-4.47zM2255.54,423.99h4.47v1.12h-4.47zM2266.73,423.99h2.24v1.12h-2.24zM2226.47,425.11h1.12v1.12h-1.12zM2228.70,425.11h1.12v1.12h-1.12zM2232.06,425.11h1.12v1.12h-1.12zM2236.53,425.11h1.12v1.12h-1.12zM2238.77,425.11h1.12v1.12h-1.12zM2247.71,425.11h3.36v1.12h-3.36zM2253.31,425.11h1.12v1.12h-1.12zM2256.66,425.11h3.36v1.12h-3.36zM2226.47,426.23h2.24v1.12h-2.24zM2229.82,426.23h1.12v1.12h-1.12zM2233.18,426.23h1.12v1.12h-1.12zM2241.00,426.23h2.24v1.12h-2.24zM2244.36,426.23h2.24v1.12h-2.24zM2249.95,426.23h2.24v1.12h-2.24zM2253.31,426.23h1.12v1.12h-1.12zM2256.66,426.23h2.24v1.12h-2.24zM2263.37,426.23h1.12v1.12h-1.12zM2265.61,426.23h1.12v1.12h-1.12zM2267.84,426.23h2.24v1.12h-2.24zM2228.70,427.34h1.12v1.12h-1.12zM2232.06,427.34h2.24v1.12h-2.24zM2235.41,427.34h4.47v1.12h-4.47zM2242.12,427.34h1.12v1.12h-1.12zM2244.36,427.34h2.24v1.12h-2.24zM2248.83,427.34h1.12v1.12h-1.12zM2251.07,427.34h1.12v1.12h-1.12zM2255.54,427.34h1.12v1.12h-1.12zM2260.02,427.34h1.12v1.12h-1.12zM2264.49,427.34h3.36v1.12h-3.36zM2268.96,427.34h1.12v1.12h-1.12zM2225.35,428.46h2.24v1.12h-2.24zM2228.70,428.46h1.12v1.12h-1.12zM2230.94,428.46h3.36v1.12h-3.36zM2235.41,428.46h1.12v1.12h-1.12zM2239.89,428.46h1.12v1.12h-1.12zM2244.36,428.46h1.12v1.12h-1.12zM2248.83,428.46h2.24v1.12h-2.24zM2252.19,428.46h4.47v1.12h-4.47zM2257.78,428.46h1.12v1.12h-1.12zM2261.13,428.46h1.12v1.12h-1.12zM2270.08,428.46h1.12v1.12h-1.12zM2225.35,429.58h1.12v1.12h-1.12zM2228.70,429.58h1.12v1.12h-1.12zM2234.29,429.58h2.24v1.12h-2.24zM2238.77,429.58h3.36v1.12h-3.36zM2243.24,429.58h2.24v1.12h-2.24zM2247.71,429.58h2.24v1.12h-2.24zM2251.07,429.58h1.12v1.12h-1.12zM2254.42,429.58h1.12v1.12h-1.12zM2256.66,429.58h2.24v1.12h-2.24zM2260.02,429.58h1.12v1.12h-1.12zM2262.25,429.58h1.12v1.12h-1.12zM2264.49,429.58h4.47v1.12h-4.47zM2270.08,429.58h1.12v1.12h-1.12z" fill="#000"/><rect x="2216.96" y="376.46" width="6.71" height="6.71" fill="none" stroke="#000" stroke-width="1.12"/><rect x="2218.64" y="378.14" width="3.36" height="3.36" fill="#000"/><rect x="2263.93" y="376.46" width="6.71" height="6.71" fill="none" stroke="#000" stroke-width="1.12"/><rect x="2265.61" y="378.14" width="3.36" height="3.36" fill="#000"/><rect x="2216.96" y="423.43" width="6.71" height="6.71" fill="none" stroke="#000" stroke-width="1.12"/><rect x="2218.64" y="425.11" width="3.36" height="3.36" fill="#000"/><rect x="2241.56" y="380.93" width="4.47" height="4.47" fill="#fff" stroke="#000" stroke-width="1.12"/><rect x="2243.24" y="382.61" width="1.12" height="1.12" fill="#000"/><rect x="2221.43" y="401.06" width="4.47" height="4.47" fill="#fff" stroke="#000" stroke-width="1.12"/><rect x="2223.11" y="402.74" width="1.12" height="1.12" fill="#000"/><rect x="2241.56" y="401.06" width="4.47" height="4.47" fill="#fff" stroke="#000" stroke-width="1.12"/><rect x="2243.24" y="402.74" width="1.12" height="1.12" fill="#000"/><rect x="2261.69" y="401.06" width="4.47" height="4.47" fill="#fff" stroke="#000" stroke-width="1.12"/><rect x="2263.37" y="402.74" width="1.12" height="1.12" fill="#000"/><rect x="2241.56" y="421.19" width="4.47" height="4.47" fill="#fff" stroke="#000" stroke-width="1.12"/><rect x="2243.24" y="422.87" width="1.12" height="1.12" fill="#000"/><rect x="2261.69" y="421.19" width="4.47" height="4.47" fill="#fff" stroke="#000" stroke-width="1.12"/><rect x="2263.37" y="422.87" width="1.12" height="1.12" fill="#000"/>
</svg>
</body></html>
